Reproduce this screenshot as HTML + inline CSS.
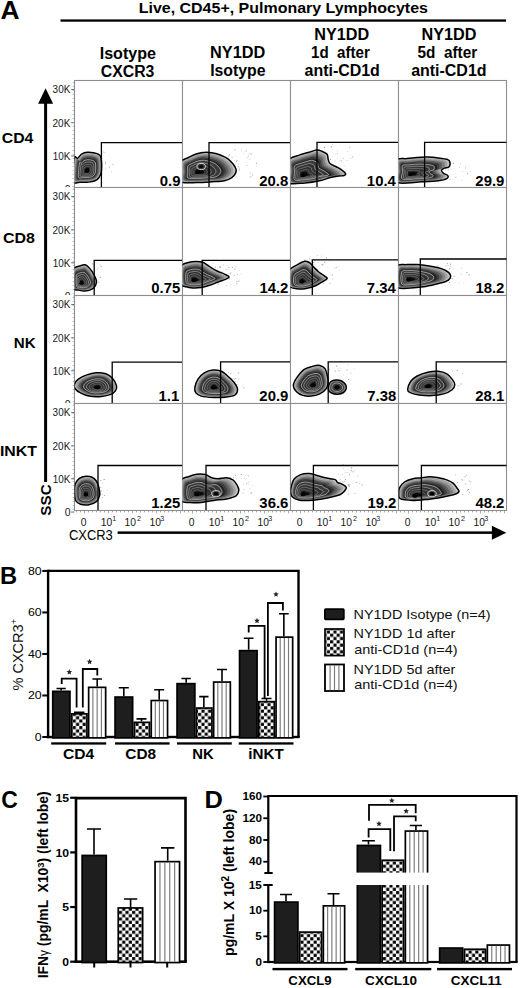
<!DOCTYPE html>
<html><head><meta charset="utf-8"><style>
html,body{margin:0;padding:0;background:#fff;width:520px;height:988px;overflow:hidden}
svg{display:block}
text{font-family:"Liberation Sans",sans-serif}
</style></head><body>
<svg width="520" height="988" viewBox="0 0 520 988">
<defs>
<pattern id="chk" patternUnits="userSpaceOnUse" width="6.6" height="6.6" x="0" y="0">
<rect width="6.6" height="6.6" fill="#fff"/>
<rect x="0.1" y="0.1" width="3.1" height="3.1" fill="#000"/>
<rect x="3.4" y="3.4" width="3.1" height="3.1" fill="#000"/>
</pattern>
<pattern id="str" patternUnits="userSpaceOnUse" width="4.4" height="10" x="0.5" y="0">
<rect width="4.4" height="10" fill="#fff"/>
<rect x="0" y="0" width="1.1" height="10" fill="#666"/>
</pattern>

<clipPath id="c00"><rect x="74.5" y="80.5" width="107.5" height="106.5"/></clipPath>
<clipPath id="c01"><rect x="182.5" y="80.5" width="107.5" height="106.5"/></clipPath>
<clipPath id="c02"><rect x="290.5" y="80.5" width="107.5" height="106.5"/></clipPath>
<clipPath id="c03"><rect x="398.5" y="80.5" width="107.5" height="106.5"/></clipPath>
<clipPath id="c10"><rect x="74.5" y="187.5" width="107.5" height="107.5"/></clipPath>
<clipPath id="c11"><rect x="182.5" y="187.5" width="107.5" height="107.5"/></clipPath>
<clipPath id="c12"><rect x="290.5" y="187.5" width="107.5" height="107.5"/></clipPath>
<clipPath id="c13"><rect x="398.5" y="187.5" width="107.5" height="107.5"/></clipPath>
<clipPath id="c20"><rect x="74.5" y="295.5" width="107.5" height="107.5"/></clipPath>
<clipPath id="c21"><rect x="182.5" y="295.5" width="107.5" height="107.5"/></clipPath>
<clipPath id="c22"><rect x="290.5" y="295.5" width="107.5" height="107.5"/></clipPath>
<clipPath id="c23"><rect x="398.5" y="295.5" width="107.5" height="107.5"/></clipPath>
<clipPath id="c30"><rect x="74.5" y="403.5" width="107.5" height="106.5"/></clipPath>
<clipPath id="c31"><rect x="182.5" y="403.5" width="107.5" height="106.5"/></clipPath>
<clipPath id="c32"><rect x="290.5" y="403.5" width="107.5" height="106.5"/></clipPath>
<clipPath id="c33"><rect x="398.5" y="403.5" width="107.5" height="106.5"/></clipPath>
<path id="b1" d="M74.7,157.3 C75.4,155.4 76.6,158.6 77.4,158.5 C78.2,158.4 78.5,157.3 79.3,156.5 C80.1,155.7 80.7,154.5 82.0,153.8 C83.3,153.1 85.5,152.5 87.4,152.3 C89.3,152.1 91.7,152.4 93.5,152.7 C95.3,153.0 97.0,153.5 98.2,154.2 C99.4,154.9 100.2,155.5 100.8,157.0 C101.4,158.5 101.5,160.4 101.6,163.0 C101.7,165.6 101.7,169.9 101.2,172.3 C100.8,174.8 99.9,176.3 98.9,177.7 C97.9,179.1 96.9,180.1 95.0,180.8 C93.1,181.6 90.0,181.9 87.4,182.2 C84.9,182.4 82.1,182.3 79.7,182.3 C77.3,182.3 74.1,184.2 73.0,182.2 C71.9,180.1 72.7,174.2 73.0,170.0 C73.3,165.8 74.0,159.2 74.7,157.3Z"/>
<path id="b2" d="M181.0,161.7 C182.2,159.3 185.8,158.8 188.5,157.5 C191.2,156.2 194.2,154.6 197.0,153.7 C199.8,152.8 203.0,152.3 205.4,152.2 C207.8,152.0 209.2,152.3 211.7,152.8 C214.2,153.3 217.5,154.0 220.2,155.0 C222.8,156.0 225.5,157.1 227.6,158.6 C229.7,160.1 231.5,162.1 232.9,163.8 C234.3,165.6 235.6,167.5 236.0,169.1 C236.4,170.7 236.1,172.0 235.4,173.4 C234.7,174.8 233.6,176.4 231.8,177.6 C230.0,178.8 227.8,180.1 224.4,180.8 C221.1,181.5 216.3,181.5 211.7,181.8 C207.1,182.1 202.1,182.5 197.0,182.5 C191.9,182.5 183.7,183.6 181.0,181.8 C178.3,180.1 181.0,175.3 181.0,172.0 C181.0,168.7 179.8,164.1 181.0,161.7Z"/>
<path id="b3" d="M289.0,159.6 C290.6,157.2 295.2,156.6 298.6,155.4 C302.0,154.2 306.2,153.1 309.2,152.2 C312.2,151.3 314.5,150.3 316.6,150.1 C318.7,149.9 320.1,150.5 321.8,151.2 C323.6,151.9 326.0,152.9 327.1,154.3 C328.2,155.7 327.7,158.0 328.2,159.6 C328.7,161.2 328.9,162.6 330.3,163.8 C331.7,165.0 334.8,165.9 336.7,167.0 C338.6,168.1 340.4,169.1 341.9,170.2 C343.4,171.3 345.1,172.5 345.5,173.4 C345.9,174.3 345.1,175.1 344.0,175.5 C342.9,175.9 341.1,175.8 338.8,176.1 C336.5,176.4 333.5,176.8 330.3,177.6 C327.1,178.4 323.9,179.9 319.7,180.8 C315.5,181.7 310.0,182.6 304.9,182.9 C299.8,183.2 291.6,185.1 289.0,182.9 C286.4,180.8 289.0,173.9 289.0,170.0 C289.0,166.1 287.4,162.0 289.0,159.6Z"/>
<path id="b4" d="M397.0,159.6 C398.6,157.7 403.2,158.9 406.6,158.6 C410.0,158.2 413.7,157.8 417.2,157.5 C420.7,157.2 424.2,157.0 427.7,157.1 C431.2,157.2 434.9,157.5 438.3,157.9 C441.7,158.3 445.9,158.8 447.8,159.6 C449.8,160.4 449.8,161.6 450.0,162.8 C450.2,164.0 449.8,166.1 448.9,167.0 C448.0,167.9 445.9,167.6 444.7,168.1 C443.5,168.6 441.7,169.3 441.5,170.2 C441.3,171.1 442.6,172.5 443.6,173.4 C444.7,174.3 447.3,174.6 447.8,175.5 C448.3,176.4 448.4,177.8 446.8,178.7 C445.2,179.6 442.5,180.3 438.3,180.8 C434.1,181.3 428.3,181.5 421.4,181.8 C414.5,182.1 401.1,184.5 397.0,182.5 C392.9,180.5 397.0,173.8 397.0,170.0 C397.0,166.2 395.4,161.5 397.0,159.6Z"/>
<path id="b5" d="M73.0,269.9 C74.2,266.2 78.4,266.5 80.5,265.7 C82.6,264.9 84.2,264.5 85.8,265.0 C87.4,265.5 88.6,267.1 90.0,268.8 C91.4,270.5 93.2,273.2 94.2,275.2 C95.2,277.1 96.1,278.7 96.3,280.5 C96.5,282.3 96.2,284.3 95.3,285.8 C94.4,287.3 92.8,288.7 91.0,289.6 C89.2,290.5 86.8,291.0 84.7,291.1 C82.6,291.2 80.2,290.5 78.3,290.0 C76.3,289.5 73.9,291.2 73.0,287.9 C72.1,284.5 71.8,273.6 73.0,269.9Z"/>
<path id="b6" d="M181.0,266.7 C182.2,263.2 186.0,263.4 188.5,262.5 C191.0,261.6 193.4,261.4 195.9,261.4 C198.4,261.4 201.0,261.6 203.3,262.5 C205.6,263.4 207.3,265.3 209.6,266.7 C211.9,268.1 214.5,269.8 217.0,271.0 C219.5,272.2 222.4,273.1 224.4,274.1 C226.4,275.1 228.9,276.0 229.1,276.9 C229.3,277.8 227.3,278.5 225.5,279.4 C223.7,280.2 220.8,281.0 218.1,282.0 C215.4,283.0 212.4,284.4 209.6,285.3 C206.8,286.2 204.0,287.1 201.2,287.5 C198.4,287.9 195.2,288.0 192.7,287.9 C190.2,287.8 188.2,287.5 186.3,286.8 C184.4,286.1 181.9,287.1 181.0,283.7 C180.1,280.3 179.8,270.2 181.0,266.7Z"/>
<path id="b7" d="M289.0,271.0 C290.4,267.5 295.0,266.2 297.5,264.6 C300.0,263.0 301.9,261.8 303.9,261.4 C305.8,261.0 307.6,261.6 309.2,262.5 C310.8,263.4 311.8,265.1 313.4,266.7 C315.0,268.3 316.8,270.4 318.7,272.0 C320.6,273.6 323.6,275.2 325.0,276.3 C326.4,277.4 327.5,277.5 327.1,278.4 C326.8,279.3 324.8,280.3 322.9,281.5 C321.0,282.7 318.1,284.7 315.5,285.8 C312.9,286.9 309.8,287.8 307.0,288.3 C304.2,288.8 301.6,289.4 298.6,289.0 C295.6,288.6 290.6,288.8 289.0,285.8 C287.4,282.8 287.6,274.5 289.0,271.0Z"/>
<path id="b8" d="M397.0,266.7 C398.6,263.0 403.2,265.0 406.6,264.6 C410.0,264.2 413.7,264.4 417.2,264.6 C420.7,264.8 424.2,265.2 427.7,265.7 C431.2,266.2 435.3,267.0 438.3,267.8 C441.3,268.6 443.8,269.4 445.7,270.5 C447.6,271.6 449.3,272.8 450.0,274.1 C450.7,275.4 450.7,277.2 450.0,278.4 C449.3,279.6 448.0,280.6 445.7,281.5 C443.4,282.4 439.9,283.2 436.2,284.1 C432.5,285.0 427.7,286.2 423.5,286.8 C419.3,287.4 415.2,287.9 410.8,287.9 C406.4,287.9 399.3,290.3 397.0,286.8 C394.7,283.3 395.4,270.4 397.0,266.7Z"/>
<path id="b9" d="M74.5,384.4 C75.0,382.8 76.2,380.7 78.3,379.1 C80.3,377.5 83.8,375.9 86.8,374.9 C89.8,373.8 93.1,373.0 96.3,372.8 C99.5,372.6 103.1,372.9 105.8,373.8 C108.5,374.7 110.4,376.2 112.2,378.1 C114.0,380.1 115.9,383.4 116.4,385.5 C116.9,387.6 116.5,389.3 115.4,390.8 C114.4,392.3 112.8,393.6 110.1,394.6 C107.4,395.6 103.0,396.4 99.5,396.7 C96.0,396.9 92.1,396.7 88.9,396.1 C85.7,395.5 82.8,394.1 80.5,392.9 C78.2,391.7 76.2,390.1 75.2,388.7 C74.2,387.3 74.0,386.0 74.5,384.4Z"/>
<path id="b10" d="M194.8,387.6 C195.2,385.3 196.4,381.6 198.0,379.1 C199.6,376.6 201.8,374.3 204.3,372.8 C206.8,371.3 210.0,370.2 212.8,370.0 C215.6,369.8 218.8,370.3 221.3,371.3 C223.8,372.3 225.5,374.2 227.6,376.0 C229.7,377.8 232.2,380.1 233.9,382.3 C235.6,384.5 237.3,387.0 237.5,389.1 C237.7,391.2 236.8,393.7 235.0,395.0 C233.2,396.3 230.0,396.7 226.5,397.1 C223.0,397.5 218.0,397.7 213.8,397.5 C209.6,397.3 204.2,396.9 201.2,396.1 C198.2,395.3 197.0,394.3 195.9,392.9 C194.8,391.5 194.5,389.9 194.8,387.6Z"/>
<path id="b11" d="M293.3,385.5 C293.3,383.2 294.7,380.8 296.5,378.1 C298.3,375.5 301.3,371.6 303.9,369.6 C306.5,367.7 309.7,367.1 312.3,366.4 C314.9,365.7 317.6,365.0 319.7,365.4 C321.8,365.8 323.8,367.0 325.0,368.6 C326.2,370.2 326.6,372.6 327.1,374.9 C327.6,377.2 328.4,380.0 328.2,382.3 C328.0,384.6 327.5,386.8 326.1,388.7 C324.7,390.6 322.2,392.7 319.7,393.9 C317.2,395.1 314.1,395.9 311.3,396.1 C308.5,396.4 305.3,396.1 302.8,395.4 C300.3,394.7 298.1,393.4 296.5,391.8 C294.9,390.2 293.3,387.8 293.3,385.5Z"/>
<path id="b12" d="M328.5,386.0 C328.9,384.6 329.8,382.5 331.0,381.5 C332.2,380.5 334.2,380.1 336.0,380.0 C337.8,379.9 339.9,380.2 341.5,381.0 C343.1,381.8 344.7,383.2 345.5,384.5 C346.3,385.8 346.5,387.2 346.2,388.5 C345.9,389.8 344.9,391.6 343.5,392.5 C342.1,393.4 339.5,394.1 337.5,394.2 C335.5,394.3 333.0,393.7 331.5,393.0 C330.0,392.3 329.0,391.2 328.5,390.0 C328.0,388.8 328.1,387.4 328.5,386.0Z"/>
<path id="b13" d="M407.6,389.7 C407.6,387.8 409.2,383.6 410.8,381.3 C412.4,379.0 414.4,377.5 417.2,376.0 C420.0,374.5 424.2,373.0 427.7,372.2 C431.2,371.4 435.1,371.0 438.3,371.3 C441.5,371.6 444.5,372.5 446.8,373.8 C449.1,375.1 450.8,377.3 452.1,379.1 C453.4,380.9 454.8,382.6 454.8,384.4 C454.8,386.2 454.0,388.1 452.1,389.7 C450.2,391.3 447.0,392.9 443.6,393.9 C440.2,394.9 436.1,395.4 432.0,395.6 C427.9,395.8 422.8,395.4 419.3,395.0 C415.8,394.6 412.8,393.8 410.8,392.9 C408.9,392.0 407.6,391.6 407.6,389.7Z"/>
<path id="b14" d="M75.2,484.0 C76.0,481.7 77.6,479.7 79.4,478.4 C81.2,477.1 83.7,476.5 85.8,476.3 C87.9,476.1 90.3,476.4 92.1,477.2 C93.8,478.0 95.1,479.1 96.3,481.0 C97.5,482.9 98.6,485.9 99.1,488.4 C99.6,490.9 100.0,493.6 99.5,495.8 C99.0,498.0 98.1,500.2 96.3,501.7 C94.5,503.2 91.5,504.3 88.9,504.7 C86.3,505.1 82.7,504.9 80.5,504.2 C78.3,503.5 76.6,502.5 75.6,500.5 C74.6,498.5 74.7,494.8 74.6,492.0 C74.5,489.2 74.4,486.3 75.2,484.0Z"/>
<path id="b15" d="M181.0,481.0 C182.2,477.1 185.8,477.8 188.5,476.7 C191.2,475.6 194.1,474.5 196.9,474.2 C199.7,473.9 202.9,474.0 205.4,474.6 C207.9,475.2 209.6,477.1 211.7,477.8 C213.8,478.5 215.6,478.8 218.1,478.8 C220.6,478.8 224.0,477.6 226.5,477.8 C229.0,478.0 231.1,478.7 232.9,479.9 C234.7,481.1 236.1,483.4 237.1,485.2 C238.1,487.0 239.0,488.7 238.8,490.5 C238.6,492.3 238.2,494.4 236.1,495.8 C234.0,497.2 230.2,498.1 226.5,498.9 C222.8,499.7 218.0,499.8 213.8,500.4 C209.6,501.0 205.1,502.1 201.2,502.5 C197.3,502.9 194.0,502.9 190.6,502.5 C187.2,502.1 182.6,503.6 181.0,500.0 C179.4,496.4 179.8,484.9 181.0,481.0Z"/>
<path id="b16" d="M291.6,485.4 C292.2,483.4 292.8,480.6 294.3,478.8 C295.8,477.0 298.2,475.5 300.7,474.6 C303.2,473.7 306.7,473.5 309.2,473.6 C311.7,473.7 313.2,474.4 315.5,475.0 C317.8,475.6 320.4,476.6 322.9,477.2 C325.4,477.8 328.2,478.4 330.3,478.8 C332.4,479.2 334.4,479.2 335.6,479.9 C336.8,480.5 336.6,482.0 337.7,482.7 C338.8,483.4 340.6,483.3 342.0,484.1 C343.4,484.9 345.8,486.1 346.2,487.3 C346.6,488.5 345.2,490.3 344.1,491.5 C343.0,492.7 341.8,493.8 339.8,494.7 C337.9,495.6 335.4,496.1 332.4,496.8 C329.4,497.5 325.7,498.4 321.8,499.0 C317.9,499.6 313.1,500.2 309.2,500.4 C305.3,500.6 301.5,500.6 298.6,500.0 C295.7,499.4 293.3,498.0 292.0,496.5 C290.7,495.0 290.7,492.9 290.6,491.0 C290.5,489.1 291.0,487.4 291.6,485.4Z"/>
<path id="b17" d="M399.6,487.6 C400.6,485.8 402.3,483.5 404.5,482.0 C406.7,480.5 410.1,479.5 412.9,478.8 C415.7,478.1 418.6,478.2 421.4,477.8 C424.2,477.4 427.0,476.7 429.8,476.7 C432.6,476.7 435.5,477.3 438.3,477.8 C441.1,478.3 444.3,479.0 446.8,479.9 C449.3,480.8 451.4,481.7 453.1,483.1 C454.9,484.5 456.3,487.0 457.3,488.4 C458.3,489.8 459.2,490.6 459.0,491.5 C458.8,492.4 458.0,493.0 456.3,493.7 C454.6,494.4 451.9,495.1 448.9,495.8 C445.9,496.5 442.2,497.3 438.3,497.9 C434.4,498.5 429.8,499.2 425.6,499.6 C421.4,500.0 417.1,500.6 412.9,500.4 C408.7,500.2 402.5,499.8 400.2,498.6 C397.9,497.4 398.9,494.8 398.8,493.0 C398.7,491.2 398.7,489.4 399.6,487.6Z"/>
</defs>
<rect width="520" height="988" fill="#fff"/>
<text x="0.64" y="19.00" font-size="25.50" font-weight="bold" fill="#000" textLength="19.05" lengthAdjust="spacingAndGlyphs" xml:space="preserve">A</text>
<text x="138.73" y="13.20" font-size="15.30" font-weight="bold" fill="#000" textLength="289.22" lengthAdjust="spacingAndGlyphs" xml:space="preserve">Live, CD45+, Pulmonary Lymphocytes</text>
<rect x="60.5" y="19.4" width="445.5" height="2.3" fill="#000"/>
<text x="99.72" y="58.60" font-size="16.00" font-weight="bold" fill="#000" textLength="56.22" lengthAdjust="spacingAndGlyphs" xml:space="preserve">Isotype</text>
<text x="100.85" y="76.60" font-size="16.00" font-weight="bold" fill="#000" textLength="53.51" lengthAdjust="spacingAndGlyphs" xml:space="preserve">CXCR3</text>
<text x="210.11" y="57.90" font-size="16.00" font-weight="bold" fill="#000" textLength="55.17" lengthAdjust="spacingAndGlyphs" xml:space="preserve">NY1DD</text>
<text x="210.14" y="75.60" font-size="16.00" font-weight="bold" fill="#000" textLength="55.40" lengthAdjust="spacingAndGlyphs" xml:space="preserve">Isotype</text>
<text x="314.32" y="40.20" font-size="16.00" font-weight="bold" fill="#000" textLength="54.86" lengthAdjust="spacingAndGlyphs" xml:space="preserve">NY1DD</text>
<text x="311.05" y="58.00" font-size="16.00" font-weight="bold" fill="#000" textLength="58.78" lengthAdjust="spacingAndGlyphs" xml:space="preserve">1d  after</text>
<text x="304.54" y="75.90" font-size="16.00" font-weight="bold" fill="#000" textLength="75.32" lengthAdjust="spacingAndGlyphs" xml:space="preserve">anti-CD1d</text>
<text x="421.62" y="39.70" font-size="16.00" font-weight="bold" fill="#000" textLength="54.86" lengthAdjust="spacingAndGlyphs" xml:space="preserve">NY1DD</text>
<text x="417.52" y="58.00" font-size="16.00" font-weight="bold" fill="#000" textLength="59.61" lengthAdjust="spacingAndGlyphs" xml:space="preserve">5d  after</text>
<text x="411.14" y="75.60" font-size="16.00" font-weight="bold" fill="#000" textLength="75.42" lengthAdjust="spacingAndGlyphs" xml:space="preserve">anti-CD1d</text>
<text x="1.85" y="143.00" font-size="15.20" font-weight="bold" fill="#000" textLength="31.53" lengthAdjust="spacingAndGlyphs" xml:space="preserve">CD4</text>
<text x="2.95" y="243.00" font-size="15.20" font-weight="bold" fill="#000" textLength="31.96" lengthAdjust="spacingAndGlyphs" xml:space="preserve">CD8</text>
<text x="13.79" y="348.00" font-size="15.20" font-weight="bold" fill="#000" textLength="21.87" lengthAdjust="spacingAndGlyphs" xml:space="preserve">NK</text>
<text x="-0.06" y="456.40" font-size="15.20" font-weight="bold" fill="#000" textLength="37.04" lengthAdjust="spacingAndGlyphs" xml:space="preserve">INKT</text>
<rect x="52" y="80.0" width="21.5" height="107.0" fill="#fff"/>
<text x="52.62" y="93.35" font-size="10.40" fill="#1a1a1a" textLength="17.70" lengthAdjust="spacingAndGlyphs" xml:space="preserve">30K</text>
<rect x="71.2" y="89.1" width="3" height="0.9" fill="#555"/>
<text x="52.50" y="126.55" font-size="10.40" fill="#1a1a1a" textLength="17.82" lengthAdjust="spacingAndGlyphs" xml:space="preserve">20K</text>
<rect x="71.2" y="122.3" width="3" height="0.9" fill="#555"/>
<text x="52.64" y="159.65" font-size="10.40" fill="#1a1a1a" textLength="17.68" lengthAdjust="spacingAndGlyphs" xml:space="preserve">10K</text>
<rect x="71.2" y="155.5" width="3" height="0.9" fill="#555"/>
<text x="64.79" y="192.75" font-size="10.40" fill="#1a1a1a" textLength="5.82" lengthAdjust="spacingAndGlyphs" xml:space="preserve">0</text>
<rect x="71.2" y="188.6" width="3" height="0.9" fill="#555"/>
<rect x="72.6" y="82.0" width="1.6" height="0.6" fill="#999"/>
<rect x="72.6" y="86.0" width="1.6" height="0.6" fill="#999"/>
<rect x="72.6" y="90.0" width="1.6" height="0.6" fill="#999"/>
<rect x="72.6" y="94.0" width="1.6" height="0.6" fill="#999"/>
<rect x="72.6" y="98.0" width="1.6" height="0.6" fill="#999"/>
<rect x="72.6" y="102.0" width="1.6" height="0.6" fill="#999"/>
<rect x="72.6" y="106.0" width="1.6" height="0.6" fill="#999"/>
<rect x="72.6" y="110.0" width="1.6" height="0.6" fill="#999"/>
<rect x="72.6" y="114.0" width="1.6" height="0.6" fill="#999"/>
<rect x="72.6" y="118.0" width="1.6" height="0.6" fill="#999"/>
<rect x="72.6" y="122.0" width="1.6" height="0.6" fill="#999"/>
<rect x="72.6" y="126.0" width="1.6" height="0.6" fill="#999"/>
<rect x="72.6" y="130.0" width="1.6" height="0.6" fill="#999"/>
<rect x="72.6" y="134.0" width="1.6" height="0.6" fill="#999"/>
<rect x="72.6" y="138.0" width="1.6" height="0.6" fill="#999"/>
<rect x="72.6" y="142.0" width="1.6" height="0.6" fill="#999"/>
<rect x="72.6" y="146.0" width="1.6" height="0.6" fill="#999"/>
<rect x="72.6" y="150.0" width="1.6" height="0.6" fill="#999"/>
<rect x="72.6" y="154.0" width="1.6" height="0.6" fill="#999"/>
<rect x="72.6" y="158.0" width="1.6" height="0.6" fill="#999"/>
<rect x="72.6" y="162.0" width="1.6" height="0.6" fill="#999"/>
<rect x="72.6" y="166.0" width="1.6" height="0.6" fill="#999"/>
<rect x="72.6" y="170.0" width="1.6" height="0.6" fill="#999"/>
<rect x="72.6" y="174.0" width="1.6" height="0.6" fill="#999"/>
<rect x="72.6" y="178.0" width="1.6" height="0.6" fill="#999"/>
<rect x="72.6" y="182.0" width="1.6" height="0.6" fill="#999"/>
<rect x="72.6" y="186.0" width="1.6" height="0.6" fill="#999"/>
<rect x="74.5" y="80.5" width="108.0" height="107.0" fill="#fff" stroke="#8e8e8e" stroke-width="1.1"/>
<g clip-path="url(#c00)" fill="#9a9a9a"><circle cx="100.5" cy="155.2" r="0.51"/><circle cx="95.4" cy="166.0" r="0.44"/><circle cx="95.2" cy="165.2" r="0.36"/><circle cx="102.7" cy="153.0" r="0.37"/><circle cx="102.5" cy="174.2" r="0.38"/><circle cx="98.5" cy="168.6" r="0.59"/><circle cx="105.5" cy="162.1" r="0.59"/><circle cx="99.8" cy="155.0" r="0.38"/><circle cx="100.2" cy="173.9" r="0.40"/><circle cx="105.6" cy="168.9" r="0.44"/><circle cx="105.0" cy="152.8" r="0.36"/><circle cx="98.1" cy="170.1" r="0.46"/><circle cx="100.3" cy="167.4" r="0.46"/><circle cx="100.0" cy="173.2" r="0.52"/><circle cx="98.9" cy="167.1" r="0.48"/><circle cx="111.5" cy="171.4" r="0.42"/><circle cx="102.4" cy="172.2" r="0.39"/><circle cx="103.8" cy="152.1" r="0.52"/><circle cx="109.3" cy="167.0" r="0.57"/><circle cx="100.3" cy="170.5" r="0.50"/><circle cx="105.6" cy="163.8" r="0.56"/><circle cx="112.9" cy="164.3" r="0.52"/><circle cx="95.2" cy="170.6" r="0.51"/><circle cx="99.7" cy="161.8" r="0.52"/><circle cx="94.5" cy="163.9" r="0.39"/></g>
<g clip-path="url(#c00)">
<use href="#b1" transform="matrix(1.000,0,0,1.000,0.00,0.00)" fill="#c4c4c4"/>
<use href="#b1" transform="matrix(0.933,0,0,0.933,5.80,11.39)" fill="#a2a2a2"/>
<use href="#b1" transform="matrix(0.867,0,0,0.867,11.60,22.77)" fill="#808080"/>
<use href="#b1" transform="matrix(0.800,0,0,0.800,17.40,34.16)" fill="#5e5e5e"/>
<use href="#b1" transform="matrix(0.733,0,0,0.733,23.20,45.55)" fill="#3e3e3e"/>
<use href="#b1" transform="matrix(0.667,0,0,0.667,29.00,56.93)" fill="#222222"/>
<use href="#b1" transform="matrix(0.600,0,0,0.600,34.80,68.32)" fill="#3a3a3a" stroke="#fafafa" stroke-width="0.9" vector-effect="non-scaling-stroke"/>
<use href="#b1" transform="matrix(0.470,0,0,0.470,46.11,90.52)" fill="#343434" stroke="#f4f4f4" stroke-width="0.85" vector-effect="non-scaling-stroke"/>
<use href="#b1" transform="matrix(0.423,0,0,0.423,50.20,98.55)" fill="none" stroke="#222" stroke-width="0.6" vector-effect="non-scaling-stroke"/>
<use href="#b1" transform="matrix(0.350,0,0,0.350,56.55,111.02)" fill="#343434" stroke="#f4f4f4" stroke-width="0.85" vector-effect="non-scaling-stroke"/>
<use href="#b1" transform="matrix(0.315,0,0,0.315,59.60,117.00)" fill="none" stroke="#222" stroke-width="0.6" vector-effect="non-scaling-stroke"/>
<use href="#b1" transform="matrix(0.240,0,0,0.240,66.12,129.81)" fill="#343434" stroke="#f4f4f4" stroke-width="0.85" vector-effect="non-scaling-stroke"/>
<use href="#b1" transform="matrix(0.216,0,0,0.216,68.21,133.91)" fill="none" stroke="#222" stroke-width="0.6" vector-effect="non-scaling-stroke"/>
<use href="#b1" transform="matrix(0.160,0,0,0.160,73.08,143.47)" fill="#0a0a0a"/>
<use href="#b1" transform="matrix(1.000,0,0,1.000,0.00,0.00)" fill="none" stroke="#000" stroke-width="1.5" vector-effect="non-scaling-stroke"/>
<ellipse cx="87.0" cy="170.8" rx="2.2" ry="1.6" fill="#000"/>
</g>
<path d="M101.4,187.0 V142.7 H182.5" fill="none" stroke="#000" stroke-width="1.3"/>
<text x="159.85" y="185.70" font-size="14.60" font-weight="bold" fill="#000" textLength="20.70" lengthAdjust="spacingAndGlyphs" xml:space="preserve">0.9</text>
<rect x="182.5" y="80.5" width="108.0" height="107.0" fill="#fff" stroke="#8e8e8e" stroke-width="1.1"/>
<g clip-path="url(#c01)" fill="#9a9a9a"><circle cx="249.7" cy="153.1" r="0.41"/><circle cx="236.1" cy="176.9" r="0.37"/><circle cx="238.2" cy="166.6" r="0.57"/><circle cx="251.5" cy="176.6" r="0.42"/><circle cx="237.0" cy="160.5" r="0.57"/><circle cx="228.3" cy="156.4" r="0.41"/><circle cx="239.5" cy="167.9" r="0.42"/><circle cx="235.3" cy="167.1" r="0.59"/><circle cx="246.9" cy="165.5" r="0.50"/><circle cx="246.3" cy="150.7" r="0.57"/><circle cx="250.1" cy="177.0" r="0.55"/><circle cx="236.1" cy="161.8" r="0.38"/><circle cx="244.8" cy="151.0" r="0.37"/><circle cx="229.5" cy="154.2" r="0.44"/><circle cx="235.1" cy="149.8" r="0.57"/><circle cx="244.1" cy="153.8" r="0.41"/><circle cx="234.5" cy="160.7" r="0.38"/><circle cx="238.8" cy="164.5" r="0.37"/><circle cx="225.7" cy="160.0" r="0.42"/><circle cx="251.8" cy="154.2" r="0.36"/><circle cx="256.2" cy="165.9" r="0.39"/><circle cx="241.6" cy="149.9" r="0.48"/><circle cx="247.1" cy="157.4" r="0.44"/><circle cx="228.0" cy="173.7" r="0.48"/><circle cx="250.0" cy="159.5" r="0.41"/><circle cx="252.7" cy="174.8" r="0.55"/><circle cx="248.6" cy="156.3" r="0.48"/><circle cx="234.8" cy="149.9" r="0.36"/><circle cx="232.1" cy="157.3" r="0.52"/><circle cx="256.4" cy="163.3" r="0.58"/><circle cx="235.1" cy="156.1" r="0.41"/><circle cx="229.1" cy="155.5" r="0.51"/><circle cx="239.3" cy="169.9" r="0.55"/><circle cx="225.1" cy="170.1" r="0.58"/><circle cx="250.2" cy="173.0" r="0.47"/><circle cx="228.4" cy="174.3" r="0.43"/><circle cx="236.3" cy="161.8" r="0.59"/><circle cx="248.1" cy="154.4" r="0.38"/><circle cx="251.0" cy="153.7" r="0.56"/><circle cx="234.6" cy="166.6" r="0.38"/></g>
<g clip-path="url(#c01)">
<use href="#b2" transform="matrix(1.000,0,0,1.000,0.00,0.00)" fill="#c4c4c4"/>
<use href="#b2" transform="matrix(0.933,0,0,0.933,13.20,11.49)" fill="#a2a2a2"/>
<use href="#b2" transform="matrix(0.867,0,0,0.867,26.40,22.97)" fill="#808080"/>
<use href="#b2" transform="matrix(0.800,0,0,0.800,39.60,34.46)" fill="#5e5e5e"/>
<use href="#b2" transform="matrix(0.733,0,0,0.733,52.80,45.95)" fill="#3e3e3e"/>
<use href="#b2" transform="matrix(0.667,0,0,0.667,66.00,57.43)" fill="#222222"/>
<use href="#b2" transform="matrix(0.600,0,0,0.600,79.20,68.92)" fill="#3a3a3a" stroke="#fafafa" stroke-width="0.9" vector-effect="non-scaling-stroke"/>
<use href="#b2" transform="matrix(0.470,0,0,0.470,104.94,91.32)" fill="#343434" stroke="#f4f4f4" stroke-width="0.85" vector-effect="non-scaling-stroke"/>
<use href="#b2" transform="matrix(0.423,0,0,0.423,114.25,99.42)" fill="none" stroke="#222" stroke-width="0.6" vector-effect="non-scaling-stroke"/>
<use href="#b2" transform="matrix(0.350,0,0,0.350,128.70,112.00)" fill="#343434" stroke="#f4f4f4" stroke-width="0.85" vector-effect="non-scaling-stroke"/>
<use href="#b2" transform="matrix(0.315,0,0,0.315,135.63,118.03)" fill="none" stroke="#222" stroke-width="0.6" vector-effect="non-scaling-stroke"/>
<use href="#b2" transform="matrix(0.240,0,0,0.240,150.48,130.95)" fill="#343434" stroke="#f4f4f4" stroke-width="0.85" vector-effect="non-scaling-stroke"/>
<use href="#b2" transform="matrix(0.216,0,0,0.216,155.23,135.08)" fill="none" stroke="#222" stroke-width="0.6" vector-effect="non-scaling-stroke"/>
<use href="#b2" transform="matrix(0.160,0,0,0.160,166.32,144.73)" fill="#0a0a0a"/>
<use href="#b2" transform="matrix(1.000,0,0,1.000,0.00,0.00)" fill="none" stroke="#000" stroke-width="1.5" vector-effect="non-scaling-stroke"/>
<ellipse cx="198.0" cy="172.3" rx="2.2" ry="1.6" fill="#000"/>
<ellipse cx="201.2" cy="166.5" rx="4.2" ry="3.1" fill="#3a3a3a" stroke="#f4f4f4" stroke-width="0.8"/>
<ellipse cx="201.2" cy="166.5" rx="2.2" ry="1.6" fill="#000"/>
</g>
<path d="M209.0,187.0 V142.7 H290.5" fill="none" stroke="#000" stroke-width="1.3"/>
<text x="259.28" y="185.70" font-size="14.60" font-weight="bold" fill="#000" textLength="28.98" lengthAdjust="spacingAndGlyphs" xml:space="preserve">20.8</text>
<rect x="290.5" y="80.5" width="108.0" height="107.0" fill="#fff" stroke="#8e8e8e" stroke-width="1.1"/>
<g clip-path="url(#c02)" fill="#9a9a9a"><circle cx="341.6" cy="161.0" r="0.58"/><circle cx="332.1" cy="173.4" r="0.56"/><circle cx="322.3" cy="151.1" r="0.42"/><circle cx="323.6" cy="163.1" r="0.41"/><circle cx="331.4" cy="146.7" r="0.58"/><circle cx="328.6" cy="158.5" r="0.50"/><circle cx="352.8" cy="157.1" r="0.58"/><circle cx="335.1" cy="161.1" r="0.48"/><circle cx="313.8" cy="157.8" r="0.40"/><circle cx="320.6" cy="159.0" r="0.53"/><circle cx="337.5" cy="153.7" r="0.48"/><circle cx="337.4" cy="170.2" r="0.38"/><circle cx="337.7" cy="150.9" r="0.42"/><circle cx="347.0" cy="160.3" r="0.49"/><circle cx="346.4" cy="174.8" r="0.46"/><circle cx="340.0" cy="160.2" r="0.48"/><circle cx="343.5" cy="158.3" r="0.48"/><circle cx="334.0" cy="175.9" r="0.52"/><circle cx="324.4" cy="162.1" r="0.59"/><circle cx="350.0" cy="146.9" r="0.38"/><circle cx="332.5" cy="144.6" r="0.41"/><circle cx="316.2" cy="166.1" r="0.55"/><circle cx="344.5" cy="165.8" r="0.39"/><circle cx="330.5" cy="159.5" r="0.60"/><circle cx="349.6" cy="147.8" r="0.46"/><circle cx="335.7" cy="154.2" r="0.40"/><circle cx="327.0" cy="168.0" r="0.35"/><circle cx="337.4" cy="157.9" r="0.35"/><circle cx="327.6" cy="164.5" r="0.48"/><circle cx="317.6" cy="151.6" r="0.36"/><circle cx="347.3" cy="151.7" r="0.38"/><circle cx="331.6" cy="174.8" r="0.55"/><circle cx="324.4" cy="147.4" r="0.58"/><circle cx="338.1" cy="167.2" r="0.37"/><circle cx="315.5" cy="166.8" r="0.46"/><circle cx="340.9" cy="170.9" r="0.37"/><circle cx="351.0" cy="158.3" r="0.43"/><circle cx="337.3" cy="175.4" r="0.42"/><circle cx="318.7" cy="161.0" r="0.41"/><circle cx="326.7" cy="153.0" r="0.54"/></g>
<g clip-path="url(#c02)">
<use href="#b3" transform="matrix(1.000,0,0,1.000,0.00,0.00)" fill="#c4c4c4"/>
<use href="#b3" transform="matrix(0.933,0,0,0.933,20.19,11.70)" fill="#a2a2a2"/>
<use href="#b3" transform="matrix(0.867,0,0,0.867,40.37,23.40)" fill="#808080"/>
<use href="#b3" transform="matrix(0.800,0,0,0.800,60.56,35.10)" fill="#5e5e5e"/>
<use href="#b3" transform="matrix(0.733,0,0,0.733,80.75,46.80)" fill="#3e3e3e"/>
<use href="#b3" transform="matrix(0.667,0,0,0.667,100.93,58.50)" fill="#222222"/>
<use href="#b3" transform="matrix(0.600,0,0,0.600,121.12,70.20)" fill="#3a3a3a" stroke="#fafafa" stroke-width="0.9" vector-effect="non-scaling-stroke"/>
<use href="#b3" transform="matrix(0.470,0,0,0.470,160.48,93.02)" fill="#343434" stroke="#f4f4f4" stroke-width="0.85" vector-effect="non-scaling-stroke"/>
<use href="#b3" transform="matrix(0.423,0,0,0.423,174.72,101.26)" fill="none" stroke="#222" stroke-width="0.6" vector-effect="non-scaling-stroke"/>
<use href="#b3" transform="matrix(0.350,0,0,0.350,196.82,114.08)" fill="#343434" stroke="#f4f4f4" stroke-width="0.85" vector-effect="non-scaling-stroke"/>
<use href="#b3" transform="matrix(0.315,0,0,0.315,207.42,120.22)" fill="none" stroke="#222" stroke-width="0.6" vector-effect="non-scaling-stroke"/>
<use href="#b3" transform="matrix(0.240,0,0,0.240,230.13,133.38)" fill="#343434" stroke="#f4f4f4" stroke-width="0.85" vector-effect="non-scaling-stroke"/>
<use href="#b3" transform="matrix(0.216,0,0,0.216,237.40,137.59)" fill="none" stroke="#222" stroke-width="0.6" vector-effect="non-scaling-stroke"/>
<use href="#b3" transform="matrix(0.160,0,0,0.160,254.35,147.42)" fill="#0a0a0a"/>
<use href="#b3" transform="matrix(1.000,0,0,1.000,0.00,0.00)" fill="none" stroke="#000" stroke-width="1.5" vector-effect="non-scaling-stroke"/>
<ellipse cx="302.8" cy="175.5" rx="2.2" ry="1.6" fill="#000"/>
</g>
<path d="M317.0,187.0 V142.3 H398.5" fill="none" stroke="#000" stroke-width="1.3"/>
<text x="366.89" y="185.70" font-size="14.60" font-weight="bold" fill="#000" textLength="28.98" lengthAdjust="spacingAndGlyphs" xml:space="preserve">10.4</text>
<rect x="398.5" y="80.5" width="108.0" height="107.0" fill="#fff" stroke="#8e8e8e" stroke-width="1.1"/>
<g clip-path="url(#c03)" fill="#9a9a9a"><circle cx="448.3" cy="170.0" r="0.39"/><circle cx="462.5" cy="171.4" r="0.40"/><circle cx="454.2" cy="182.2" r="0.38"/><circle cx="465.2" cy="168.1" r="0.47"/><circle cx="465.7" cy="167.0" r="0.48"/><circle cx="450.0" cy="179.3" r="0.53"/><circle cx="459.4" cy="167.3" r="0.44"/><circle cx="441.3" cy="176.7" r="0.41"/><circle cx="460.5" cy="163.9" r="0.41"/><circle cx="448.4" cy="168.9" r="0.39"/><circle cx="453.3" cy="163.4" r="0.59"/><circle cx="470.1" cy="171.3" r="0.41"/><circle cx="451.2" cy="169.3" r="0.48"/><circle cx="445.4" cy="170.1" r="0.35"/><circle cx="447.5" cy="158.5" r="0.45"/><circle cx="448.7" cy="162.5" r="0.50"/><circle cx="455.9" cy="177.0" r="0.51"/><circle cx="461.9" cy="180.6" r="0.45"/><circle cx="443.8" cy="176.3" r="0.51"/><circle cx="467.5" cy="173.6" r="0.53"/></g>
<g clip-path="url(#c03)">
<use href="#b4" transform="matrix(1.000,0,0,1.000,0.00,0.00)" fill="#c4c4c4"/>
<use href="#b4" transform="matrix(0.933,0,0,0.933,27.39,11.63)" fill="#a2a2a2"/>
<use href="#b4" transform="matrix(0.867,0,0,0.867,54.77,23.25)" fill="#808080"/>
<use href="#b4" transform="matrix(0.800,0,0,0.800,82.16,34.88)" fill="#5e5e5e"/>
<use href="#b4" transform="matrix(0.733,0,0,0.733,109.55,46.51)" fill="#3e3e3e"/>
<use href="#b4" transform="matrix(0.667,0,0,0.667,136.93,58.13)" fill="#222222"/>
<use href="#b4" transform="matrix(0.600,0,0,0.600,164.32,69.76)" fill="#3a3a3a" stroke="#fafafa" stroke-width="0.9" vector-effect="non-scaling-stroke"/>
<use href="#b4" transform="matrix(0.470,0,0,0.470,217.72,92.43)" fill="#343434" stroke="#f4f4f4" stroke-width="0.85" vector-effect="non-scaling-stroke"/>
<use href="#b4" transform="matrix(0.423,0,0,0.423,237.03,100.63)" fill="none" stroke="#222" stroke-width="0.6" vector-effect="non-scaling-stroke"/>
<use href="#b4" transform="matrix(0.350,0,0,0.350,267.02,113.36)" fill="#343434" stroke="#f4f4f4" stroke-width="0.85" vector-effect="non-scaling-stroke"/>
<use href="#b4" transform="matrix(0.315,0,0,0.315,281.40,119.46)" fill="none" stroke="#222" stroke-width="0.6" vector-effect="non-scaling-stroke"/>
<use href="#b4" transform="matrix(0.240,0,0,0.240,312.21,132.54)" fill="#343434" stroke="#f4f4f4" stroke-width="0.85" vector-effect="non-scaling-stroke"/>
<use href="#b4" transform="matrix(0.216,0,0,0.216,322.07,136.73)" fill="none" stroke="#222" stroke-width="0.6" vector-effect="non-scaling-stroke"/>
<use href="#b4" transform="matrix(0.160,0,0,0.160,345.07,146.50)" fill="#0a0a0a"/>
<use href="#b4" transform="matrix(1.000,0,0,1.000,0.00,0.00)" fill="none" stroke="#000" stroke-width="1.5" vector-effect="non-scaling-stroke"/>
<ellipse cx="410.8" cy="174.4" rx="2.2" ry="1.6" fill="#000"/>
</g>
<path d="M424.6,187.0 V142.3 H506.5" fill="none" stroke="#000" stroke-width="1.3"/>
<text x="475.37" y="185.70" font-size="14.60" font-weight="bold" fill="#000" textLength="28.98" lengthAdjust="spacingAndGlyphs" xml:space="preserve">29.9</text>
<rect x="52" y="187.0" width="21.5" height="108.0" fill="#fff"/>
<text x="52.62" y="200.35" font-size="10.40" fill="#1a1a1a" textLength="17.70" lengthAdjust="spacingAndGlyphs" xml:space="preserve">30K</text>
<rect x="71.2" y="196.2" width="3" height="0.9" fill="#555"/>
<text x="52.50" y="233.55" font-size="10.40" fill="#1a1a1a" textLength="17.82" lengthAdjust="spacingAndGlyphs" xml:space="preserve">20K</text>
<rect x="71.2" y="229.4" width="3" height="0.9" fill="#555"/>
<text x="52.64" y="266.65" font-size="10.40" fill="#1a1a1a" textLength="17.68" lengthAdjust="spacingAndGlyphs" xml:space="preserve">10K</text>
<rect x="71.2" y="262.4" width="3" height="0.9" fill="#555"/>
<text x="64.79" y="299.75" font-size="10.40" fill="#1a1a1a" textLength="5.82" lengthAdjust="spacingAndGlyphs" xml:space="preserve">0</text>
<rect x="71.2" y="295.6" width="3" height="0.9" fill="#555"/>
<rect x="72.6" y="189.0" width="1.6" height="0.6" fill="#999"/>
<rect x="72.6" y="193.0" width="1.6" height="0.6" fill="#999"/>
<rect x="72.6" y="197.0" width="1.6" height="0.6" fill="#999"/>
<rect x="72.6" y="201.0" width="1.6" height="0.6" fill="#999"/>
<rect x="72.6" y="205.0" width="1.6" height="0.6" fill="#999"/>
<rect x="72.6" y="209.0" width="1.6" height="0.6" fill="#999"/>
<rect x="72.6" y="213.0" width="1.6" height="0.6" fill="#999"/>
<rect x="72.6" y="217.0" width="1.6" height="0.6" fill="#999"/>
<rect x="72.6" y="221.0" width="1.6" height="0.6" fill="#999"/>
<rect x="72.6" y="225.0" width="1.6" height="0.6" fill="#999"/>
<rect x="72.6" y="229.0" width="1.6" height="0.6" fill="#999"/>
<rect x="72.6" y="233.0" width="1.6" height="0.6" fill="#999"/>
<rect x="72.6" y="237.0" width="1.6" height="0.6" fill="#999"/>
<rect x="72.6" y="241.0" width="1.6" height="0.6" fill="#999"/>
<rect x="72.6" y="245.0" width="1.6" height="0.6" fill="#999"/>
<rect x="72.6" y="249.0" width="1.6" height="0.6" fill="#999"/>
<rect x="72.6" y="253.0" width="1.6" height="0.6" fill="#999"/>
<rect x="72.6" y="257.0" width="1.6" height="0.6" fill="#999"/>
<rect x="72.6" y="261.0" width="1.6" height="0.6" fill="#999"/>
<rect x="72.6" y="265.0" width="1.6" height="0.6" fill="#999"/>
<rect x="72.6" y="269.0" width="1.6" height="0.6" fill="#999"/>
<rect x="72.6" y="273.0" width="1.6" height="0.6" fill="#999"/>
<rect x="72.6" y="277.0" width="1.6" height="0.6" fill="#999"/>
<rect x="72.6" y="281.0" width="1.6" height="0.6" fill="#999"/>
<rect x="72.6" y="285.0" width="1.6" height="0.6" fill="#999"/>
<rect x="72.6" y="289.0" width="1.6" height="0.6" fill="#999"/>
<rect x="72.6" y="293.0" width="1.6" height="0.6" fill="#999"/>
<rect x="74.5" y="187.5" width="108.0" height="108.0" fill="#fff" stroke="#8e8e8e" stroke-width="1.1"/>
<g clip-path="url(#c10)" fill="#9a9a9a"><circle cx="100.0" cy="264.9" r="0.48"/><circle cx="95.1" cy="284.4" r="0.55"/><circle cx="100.2" cy="277.4" r="0.57"/><circle cx="97.9" cy="280.4" r="0.41"/><circle cx="92.8" cy="263.9" r="0.56"/><circle cx="95.9" cy="278.6" r="0.51"/><circle cx="97.9" cy="274.7" r="0.35"/><circle cx="99.8" cy="282.0" r="0.48"/><circle cx="95.6" cy="279.5" r="0.37"/><circle cx="98.8" cy="268.1" r="0.37"/><circle cx="91.2" cy="281.4" r="0.40"/><circle cx="94.9" cy="271.7" r="0.47"/><circle cx="97.9" cy="282.5" r="0.50"/><circle cx="97.3" cy="263.2" r="0.39"/><circle cx="91.1" cy="281.8" r="0.43"/><circle cx="96.1" cy="261.3" r="0.37"/><circle cx="91.3" cy="279.8" r="0.52"/><circle cx="97.8" cy="269.1" r="0.48"/><circle cx="94.4" cy="274.1" r="0.38"/><circle cx="101.3" cy="266.6" r="0.59"/></g>
<g clip-path="url(#c10)">
<use href="#b5" transform="matrix(1.000,0,0,1.000,0.00,0.00)" fill="#c4c4c4"/>
<use href="#b5" transform="matrix(0.933,0,0,0.933,5.43,18.88)" fill="#a2a2a2"/>
<use href="#b5" transform="matrix(0.867,0,0,0.867,10.87,37.76)" fill="#808080"/>
<use href="#b5" transform="matrix(0.800,0,0,0.800,16.30,56.64)" fill="#5e5e5e"/>
<use href="#b5" transform="matrix(0.733,0,0,0.733,21.73,75.52)" fill="#3e3e3e"/>
<use href="#b5" transform="matrix(0.667,0,0,0.667,27.17,94.40)" fill="#222222"/>
<use href="#b5" transform="matrix(0.600,0,0,0.600,32.60,113.28)" fill="#3a3a3a" stroke="#fafafa" stroke-width="0.9" vector-effect="non-scaling-stroke"/>
<use href="#b5" transform="matrix(0.470,0,0,0.470,43.20,150.10)" fill="#343434" stroke="#f4f4f4" stroke-width="0.85" vector-effect="non-scaling-stroke"/>
<use href="#b5" transform="matrix(0.423,0,0,0.423,47.03,163.41)" fill="none" stroke="#222" stroke-width="0.6" vector-effect="non-scaling-stroke"/>
<use href="#b5" transform="matrix(0.350,0,0,0.350,52.98,184.08)" fill="#343434" stroke="#f4f4f4" stroke-width="0.85" vector-effect="non-scaling-stroke"/>
<use href="#b5" transform="matrix(0.315,0,0,0.315,55.83,193.99)" fill="none" stroke="#222" stroke-width="0.6" vector-effect="non-scaling-stroke"/>
<use href="#b5" transform="matrix(0.240,0,0,0.240,61.94,215.23)" fill="#343434" stroke="#f4f4f4" stroke-width="0.85" vector-effect="non-scaling-stroke"/>
<use href="#b5" transform="matrix(0.216,0,0,0.216,63.90,222.03)" fill="none" stroke="#222" stroke-width="0.6" vector-effect="non-scaling-stroke"/>
<use href="#b5" transform="matrix(0.160,0,0,0.160,68.46,237.89)" fill="#0a0a0a"/>
<use href="#b5" transform="matrix(1.000,0,0,1.000,0.00,0.00)" fill="none" stroke="#000" stroke-width="1.5" vector-effect="non-scaling-stroke"/>
<ellipse cx="81.5" cy="283.2" rx="2.2" ry="1.6" fill="#000"/>
</g>
<path d="M94.2,295.0 V260.4 H182.5" fill="none" stroke="#000" stroke-width="1.3"/>
<text x="151.24" y="292.60" font-size="14.60" font-weight="bold" fill="#000" textLength="28.98" lengthAdjust="spacingAndGlyphs" xml:space="preserve">0.75</text>
<rect x="182.5" y="187.5" width="108.0" height="108.0" fill="#fff" stroke="#8e8e8e" stroke-width="1.1"/>
<g clip-path="url(#c11)" fill="#9a9a9a"><circle cx="218.2" cy="284.0" r="0.59"/><circle cx="217.8" cy="268.5" r="0.40"/><circle cx="223.6" cy="265.0" r="0.48"/><circle cx="234.1" cy="275.2" r="0.57"/><circle cx="228.9" cy="267.5" r="0.57"/><circle cx="219.4" cy="261.7" r="0.35"/><circle cx="219.6" cy="273.6" r="0.43"/><circle cx="204.2" cy="270.6" r="0.43"/><circle cx="231.0" cy="284.5" r="0.38"/><circle cx="238.8" cy="281.0" r="0.58"/><circle cx="210.8" cy="271.4" r="0.45"/><circle cx="213.9" cy="273.0" r="0.42"/><circle cx="234.7" cy="269.0" r="0.58"/><circle cx="209.0" cy="268.4" r="0.48"/><circle cx="206.4" cy="271.5" r="0.59"/><circle cx="236.9" cy="283.7" r="0.51"/><circle cx="222.2" cy="281.1" r="0.36"/><circle cx="230.2" cy="273.6" r="0.54"/><circle cx="226.4" cy="269.0" r="0.36"/><circle cx="218.8" cy="270.6" r="0.42"/><circle cx="209.4" cy="279.4" r="0.43"/><circle cx="222.5" cy="272.0" r="0.39"/><circle cx="205.1" cy="266.8" r="0.58"/><circle cx="219.9" cy="267.2" r="0.58"/><circle cx="241.8" cy="273.6" r="0.38"/><circle cx="213.0" cy="263.6" r="0.41"/><circle cx="209.4" cy="276.9" r="0.57"/><circle cx="231.0" cy="272.6" r="0.45"/><circle cx="221.1" cy="271.6" r="0.43"/><circle cx="200.7" cy="268.8" r="0.59"/><circle cx="203.5" cy="275.1" r="0.51"/><circle cx="236.0" cy="267.0" r="0.42"/><circle cx="208.9" cy="272.2" r="0.46"/><circle cx="237.4" cy="274.3" r="0.50"/><circle cx="208.9" cy="264.1" r="0.39"/><circle cx="221.0" cy="280.1" r="0.59"/><circle cx="229.8" cy="279.1" r="0.54"/><circle cx="218.1" cy="276.4" r="0.36"/><circle cx="232.4" cy="267.5" r="0.58"/><circle cx="226.4" cy="269.5" r="0.38"/><circle cx="209.1" cy="278.8" r="0.52"/><circle cx="221.1" cy="277.3" r="0.45"/><circle cx="207.8" cy="277.8" r="0.35"/><circle cx="211.3" cy="273.9" r="0.59"/><circle cx="226.4" cy="285.7" r="0.47"/><circle cx="208.3" cy="267.9" r="0.59"/><circle cx="229.0" cy="269.6" r="0.36"/><circle cx="219.9" cy="279.9" r="0.46"/><circle cx="209.3" cy="279.7" r="0.58"/><circle cx="212.9" cy="272.8" r="0.52"/><circle cx="206.7" cy="283.3" r="0.53"/><circle cx="220.2" cy="266.7" r="0.59"/><circle cx="211.7" cy="284.0" r="0.41"/><circle cx="207.7" cy="282.3" r="0.42"/><circle cx="239.9" cy="274.9" r="0.40"/><circle cx="207.8" cy="272.7" r="0.52"/><circle cx="215.3" cy="267.0" r="0.59"/><circle cx="200.6" cy="272.0" r="0.57"/><circle cx="236.9" cy="281.5" r="0.60"/><circle cx="239.0" cy="270.2" r="0.40"/></g>
<g clip-path="url(#c11)">
<use href="#b6" transform="matrix(1.000,0,0,1.000,0.00,0.00)" fill="#c4c4c4"/>
<use href="#b6" transform="matrix(0.933,0,0,0.933,12.92,18.70)" fill="#a2a2a2"/>
<use href="#b6" transform="matrix(0.867,0,0,0.867,25.84,37.40)" fill="#808080"/>
<use href="#b6" transform="matrix(0.800,0,0,0.800,38.76,56.10)" fill="#5e5e5e"/>
<use href="#b6" transform="matrix(0.733,0,0,0.733,51.68,74.80)" fill="#3e3e3e"/>
<use href="#b6" transform="matrix(0.667,0,0,0.667,64.60,93.50)" fill="#222222"/>
<use href="#b6" transform="matrix(0.600,0,0,0.600,77.52,112.20)" fill="#3a3a3a" stroke="#fafafa" stroke-width="0.9" vector-effect="non-scaling-stroke"/>
<use href="#b6" transform="matrix(0.470,0,0,0.470,102.71,148.67)" fill="#343434" stroke="#f4f4f4" stroke-width="0.85" vector-effect="non-scaling-stroke"/>
<use href="#b6" transform="matrix(0.423,0,0,0.423,111.82,161.85)" fill="none" stroke="#222" stroke-width="0.6" vector-effect="non-scaling-stroke"/>
<use href="#b6" transform="matrix(0.350,0,0,0.350,125.97,182.33)" fill="#343434" stroke="#f4f4f4" stroke-width="0.85" vector-effect="non-scaling-stroke"/>
<use href="#b6" transform="matrix(0.315,0,0,0.315,132.75,192.14)" fill="none" stroke="#222" stroke-width="0.6" vector-effect="non-scaling-stroke"/>
<use href="#b6" transform="matrix(0.240,0,0,0.240,147.29,213.18)" fill="#343434" stroke="#f4f4f4" stroke-width="0.85" vector-effect="non-scaling-stroke"/>
<use href="#b6" transform="matrix(0.216,0,0,0.216,151.94,219.91)" fill="none" stroke="#222" stroke-width="0.6" vector-effect="non-scaling-stroke"/>
<use href="#b6" transform="matrix(0.160,0,0,0.160,162.79,235.62)" fill="#0a0a0a"/>
<use href="#b6" transform="matrix(1.000,0,0,1.000,0.00,0.00)" fill="none" stroke="#000" stroke-width="1.5" vector-effect="non-scaling-stroke"/>
<ellipse cx="193.8" cy="280.5" rx="2.2" ry="1.6" fill="#000"/>
</g>
<path d="M202.2,295.0 V260.4 H290.5" fill="none" stroke="#000" stroke-width="1.3"/>
<text x="259.42" y="292.60" font-size="14.60" font-weight="bold" fill="#000" textLength="28.98" lengthAdjust="spacingAndGlyphs" xml:space="preserve">14.2</text>
<rect x="290.5" y="187.5" width="108.0" height="108.0" fill="#fff" stroke="#8e8e8e" stroke-width="1.1"/>
<g clip-path="url(#c12)" fill="#9a9a9a"><circle cx="301.3" cy="275.3" r="0.44"/><circle cx="315.0" cy="264.6" r="0.39"/><circle cx="314.1" cy="284.6" r="0.38"/><circle cx="314.3" cy="280.3" r="0.56"/><circle cx="317.3" cy="255.6" r="0.47"/><circle cx="314.9" cy="283.4" r="0.40"/><circle cx="314.6" cy="282.7" r="0.36"/><circle cx="316.4" cy="280.0" r="0.54"/><circle cx="310.3" cy="277.9" r="0.57"/><circle cx="313.6" cy="262.7" r="0.59"/><circle cx="324.7" cy="262.4" r="0.53"/><circle cx="312.7" cy="262.8" r="0.35"/><circle cx="330.2" cy="283.3" r="0.51"/><circle cx="309.4" cy="269.2" r="0.59"/><circle cx="338.2" cy="266.4" r="0.41"/><circle cx="317.2" cy="269.8" r="0.58"/><circle cx="307.3" cy="279.7" r="0.53"/><circle cx="332.9" cy="278.7" r="0.50"/><circle cx="313.1" cy="264.2" r="0.44"/><circle cx="307.9" cy="278.1" r="0.41"/><circle cx="322.1" cy="264.4" r="0.60"/><circle cx="310.6" cy="256.7" r="0.37"/><circle cx="319.9" cy="276.7" r="0.46"/><circle cx="309.4" cy="267.3" r="0.51"/><circle cx="327.0" cy="277.9" r="0.56"/><circle cx="326.6" cy="257.9" r="0.56"/><circle cx="311.8" cy="272.1" r="0.44"/><circle cx="329.5" cy="260.4" r="0.41"/><circle cx="309.8" cy="258.9" r="0.57"/><circle cx="323.1" cy="264.4" r="0.45"/><circle cx="339.7" cy="270.2" r="0.41"/><circle cx="332.3" cy="274.9" r="0.60"/><circle cx="304.1" cy="269.2" r="0.55"/><circle cx="304.8" cy="260.1" r="0.59"/><circle cx="323.3" cy="283.8" r="0.44"/><circle cx="334.6" cy="268.4" r="0.41"/><circle cx="304.2" cy="273.1" r="0.50"/><circle cx="308.7" cy="265.8" r="0.39"/><circle cx="308.2" cy="262.2" r="0.50"/><circle cx="326.1" cy="260.5" r="0.35"/><circle cx="313.1" cy="275.7" r="0.40"/><circle cx="312.5" cy="260.5" r="0.55"/><circle cx="321.9" cy="256.0" r="0.38"/><circle cx="315.8" cy="271.6" r="0.51"/><circle cx="327.8" cy="267.1" r="0.42"/><circle cx="312.3" cy="284.5" r="0.43"/><circle cx="322.7" cy="265.4" r="0.45"/><circle cx="314.6" cy="260.3" r="0.53"/><circle cx="336.1" cy="267.6" r="0.56"/><circle cx="316.2" cy="282.3" r="0.47"/></g>
<g clip-path="url(#c12)">
<use href="#b7" transform="matrix(1.000,0,0,1.000,0.00,0.00)" fill="#c4c4c4"/>
<use href="#b7" transform="matrix(0.933,0,0,0.933,20.12,18.80)" fill="#a2a2a2"/>
<use href="#b7" transform="matrix(0.867,0,0,0.867,40.24,37.60)" fill="#808080"/>
<use href="#b7" transform="matrix(0.800,0,0,0.800,60.36,56.40)" fill="#5e5e5e"/>
<use href="#b7" transform="matrix(0.733,0,0,0.733,80.48,75.20)" fill="#3e3e3e"/>
<use href="#b7" transform="matrix(0.667,0,0,0.667,100.60,94.00)" fill="#222222"/>
<use href="#b7" transform="matrix(0.600,0,0,0.600,120.72,112.80)" fill="#3a3a3a" stroke="#fafafa" stroke-width="0.9" vector-effect="non-scaling-stroke"/>
<use href="#b7" transform="matrix(0.470,0,0,0.470,159.95,149.46)" fill="#343434" stroke="#f4f4f4" stroke-width="0.85" vector-effect="non-scaling-stroke"/>
<use href="#b7" transform="matrix(0.423,0,0,0.423,174.14,162.71)" fill="none" stroke="#222" stroke-width="0.6" vector-effect="non-scaling-stroke"/>
<use href="#b7" transform="matrix(0.350,0,0,0.350,196.17,183.30)" fill="#343434" stroke="#f4f4f4" stroke-width="0.85" vector-effect="non-scaling-stroke"/>
<use href="#b7" transform="matrix(0.315,0,0,0.315,206.73,193.17)" fill="none" stroke="#222" stroke-width="0.6" vector-effect="non-scaling-stroke"/>
<use href="#b7" transform="matrix(0.240,0,0,0.240,229.37,214.32)" fill="#343434" stroke="#f4f4f4" stroke-width="0.85" vector-effect="non-scaling-stroke"/>
<use href="#b7" transform="matrix(0.216,0,0,0.216,236.61,221.09)" fill="none" stroke="#222" stroke-width="0.6" vector-effect="non-scaling-stroke"/>
<use href="#b7" transform="matrix(0.160,0,0,0.160,253.51,236.88)" fill="#0a0a0a"/>
<use href="#b7" transform="matrix(1.000,0,0,1.000,0.00,0.00)" fill="none" stroke="#000" stroke-width="1.5" vector-effect="non-scaling-stroke"/>
<ellipse cx="301.8" cy="282.0" rx="2.2" ry="1.6" fill="#000"/>
</g>
<path d="M312.3,295.0 V259.8 H398.5" fill="none" stroke="#000" stroke-width="1.3"/>
<text x="366.89" y="292.60" font-size="14.60" font-weight="bold" fill="#000" textLength="28.98" lengthAdjust="spacingAndGlyphs" xml:space="preserve">7.34</text>
<rect x="398.5" y="187.5" width="108.0" height="108.0" fill="#fff" stroke="#8e8e8e" stroke-width="1.1"/>
<g clip-path="url(#c13)" fill="#9a9a9a"><circle cx="452.1" cy="278.4" r="0.58"/><circle cx="433.6" cy="277.9" r="0.44"/><circle cx="450.2" cy="266.5" r="0.42"/><circle cx="450.8" cy="285.2" r="0.38"/><circle cx="449.6" cy="282.3" r="0.59"/><circle cx="437.9" cy="266.0" r="0.59"/><circle cx="469.0" cy="274.6" r="0.36"/><circle cx="467.0" cy="272.3" r="0.58"/><circle cx="454.8" cy="282.8" r="0.39"/><circle cx="461.4" cy="268.3" r="0.45"/><circle cx="463.9" cy="282.9" r="0.40"/><circle cx="438.7" cy="272.6" r="0.48"/><circle cx="445.3" cy="266.0" r="0.41"/><circle cx="459.0" cy="284.5" r="0.36"/><circle cx="452.5" cy="281.2" r="0.36"/><circle cx="454.0" cy="276.2" r="0.51"/><circle cx="442.2" cy="273.1" r="0.50"/><circle cx="447.0" cy="278.8" r="0.46"/><circle cx="447.5" cy="263.6" r="0.50"/><circle cx="449.6" cy="268.6" r="0.54"/><circle cx="461.2" cy="274.0" r="0.39"/><circle cx="448.9" cy="265.6" r="0.38"/><circle cx="447.2" cy="265.2" r="0.46"/><circle cx="450.4" cy="264.0" r="0.51"/><circle cx="433.3" cy="280.6" r="0.54"/><circle cx="450.5" cy="264.3" r="0.48"/><circle cx="445.1" cy="285.8" r="0.38"/><circle cx="459.3" cy="282.6" r="0.40"/><circle cx="469.3" cy="274.8" r="0.59"/><circle cx="432.6" cy="271.4" r="0.54"/></g>
<g clip-path="url(#c13)">
<use href="#b8" transform="matrix(1.000,0,0,1.000,0.00,0.00)" fill="#c4c4c4"/>
<use href="#b8" transform="matrix(0.933,0,0,0.933,27.25,18.65)" fill="#a2a2a2"/>
<use href="#b8" transform="matrix(0.867,0,0,0.867,54.49,37.31)" fill="#808080"/>
<use href="#b8" transform="matrix(0.800,0,0,0.800,81.74,55.96)" fill="#5e5e5e"/>
<use href="#b8" transform="matrix(0.733,0,0,0.733,108.99,74.61)" fill="#3e3e3e"/>
<use href="#b8" transform="matrix(0.667,0,0,0.667,136.23,93.27)" fill="#222222"/>
<use href="#b8" transform="matrix(0.600,0,0,0.600,163.48,111.92)" fill="#3a3a3a" stroke="#fafafa" stroke-width="0.9" vector-effect="non-scaling-stroke"/>
<use href="#b8" transform="matrix(0.470,0,0,0.470,216.61,148.29)" fill="#343434" stroke="#f4f4f4" stroke-width="0.85" vector-effect="non-scaling-stroke"/>
<use href="#b8" transform="matrix(0.423,0,0,0.423,235.82,161.44)" fill="none" stroke="#222" stroke-width="0.6" vector-effect="non-scaling-stroke"/>
<use href="#b8" transform="matrix(0.350,0,0,0.350,265.66,181.87)" fill="#343434" stroke="#f4f4f4" stroke-width="0.85" vector-effect="non-scaling-stroke"/>
<use href="#b8" transform="matrix(0.315,0,0,0.315,279.96,191.66)" fill="none" stroke="#222" stroke-width="0.6" vector-effect="non-scaling-stroke"/>
<use href="#b8" transform="matrix(0.240,0,0,0.240,310.61,212.65)" fill="#343434" stroke="#f4f4f4" stroke-width="0.85" vector-effect="non-scaling-stroke"/>
<use href="#b8" transform="matrix(0.216,0,0,0.216,320.42,219.36)" fill="none" stroke="#222" stroke-width="0.6" vector-effect="non-scaling-stroke"/>
<use href="#b8" transform="matrix(0.160,0,0,0.160,343.31,235.03)" fill="#0a0a0a"/>
<use href="#b8" transform="matrix(1.000,0,0,1.000,0.00,0.00)" fill="none" stroke="#000" stroke-width="1.5" vector-effect="non-scaling-stroke"/>
<ellipse cx="408.7" cy="279.8" rx="2.2" ry="1.6" fill="#000"/>
</g>
<path d="M420.3,295.0 V259.0 H506.5" fill="none" stroke="#000" stroke-width="1.3"/>
<text x="475.42" y="292.60" font-size="14.60" font-weight="bold" fill="#000" textLength="28.98" lengthAdjust="spacingAndGlyphs" xml:space="preserve">18.2</text>
<rect x="52" y="295.0" width="21.5" height="108.0" fill="#fff"/>
<text x="52.62" y="308.35" font-size="10.40" fill="#1a1a1a" textLength="17.70" lengthAdjust="spacingAndGlyphs" xml:space="preserve">30K</text>
<rect x="71.2" y="304.2" width="3" height="0.9" fill="#555"/>
<text x="52.50" y="341.55" font-size="10.40" fill="#1a1a1a" textLength="17.82" lengthAdjust="spacingAndGlyphs" xml:space="preserve">20K</text>
<rect x="71.2" y="337.4" width="3" height="0.9" fill="#555"/>
<text x="52.64" y="374.65" font-size="10.40" fill="#1a1a1a" textLength="17.68" lengthAdjust="spacingAndGlyphs" xml:space="preserve">10K</text>
<rect x="71.2" y="370.4" width="3" height="0.9" fill="#555"/>
<text x="64.79" y="407.75" font-size="10.40" fill="#1a1a1a" textLength="5.82" lengthAdjust="spacingAndGlyphs" xml:space="preserve">0</text>
<rect x="71.2" y="403.6" width="3" height="0.9" fill="#555"/>
<rect x="72.6" y="297.0" width="1.6" height="0.6" fill="#999"/>
<rect x="72.6" y="301.0" width="1.6" height="0.6" fill="#999"/>
<rect x="72.6" y="305.0" width="1.6" height="0.6" fill="#999"/>
<rect x="72.6" y="309.0" width="1.6" height="0.6" fill="#999"/>
<rect x="72.6" y="313.0" width="1.6" height="0.6" fill="#999"/>
<rect x="72.6" y="317.0" width="1.6" height="0.6" fill="#999"/>
<rect x="72.6" y="321.0" width="1.6" height="0.6" fill="#999"/>
<rect x="72.6" y="325.0" width="1.6" height="0.6" fill="#999"/>
<rect x="72.6" y="329.0" width="1.6" height="0.6" fill="#999"/>
<rect x="72.6" y="333.0" width="1.6" height="0.6" fill="#999"/>
<rect x="72.6" y="337.0" width="1.6" height="0.6" fill="#999"/>
<rect x="72.6" y="341.0" width="1.6" height="0.6" fill="#999"/>
<rect x="72.6" y="345.0" width="1.6" height="0.6" fill="#999"/>
<rect x="72.6" y="349.0" width="1.6" height="0.6" fill="#999"/>
<rect x="72.6" y="353.0" width="1.6" height="0.6" fill="#999"/>
<rect x="72.6" y="357.0" width="1.6" height="0.6" fill="#999"/>
<rect x="72.6" y="361.0" width="1.6" height="0.6" fill="#999"/>
<rect x="72.6" y="365.0" width="1.6" height="0.6" fill="#999"/>
<rect x="72.6" y="369.0" width="1.6" height="0.6" fill="#999"/>
<rect x="72.6" y="373.0" width="1.6" height="0.6" fill="#999"/>
<rect x="72.6" y="377.0" width="1.6" height="0.6" fill="#999"/>
<rect x="72.6" y="381.0" width="1.6" height="0.6" fill="#999"/>
<rect x="72.6" y="385.0" width="1.6" height="0.6" fill="#999"/>
<rect x="72.6" y="389.0" width="1.6" height="0.6" fill="#999"/>
<rect x="72.6" y="393.0" width="1.6" height="0.6" fill="#999"/>
<rect x="72.6" y="397.0" width="1.6" height="0.6" fill="#999"/>
<rect x="72.6" y="401.0" width="1.6" height="0.6" fill="#999"/>
<rect x="74.5" y="295.5" width="108.0" height="108.0" fill="#fff" stroke="#8e8e8e" stroke-width="1.1"/>
<g clip-path="url(#c20)" fill="#9a9a9a"><circle cx="105.5" cy="391.3" r="0.39"/><circle cx="110.0" cy="393.4" r="0.40"/><circle cx="105.3" cy="385.1" r="0.43"/><circle cx="113.6" cy="392.9" r="0.39"/><circle cx="115.7" cy="377.3" r="0.48"/><circle cx="112.7" cy="382.2" r="0.57"/><circle cx="111.1" cy="386.6" r="0.57"/><circle cx="112.6" cy="382.9" r="0.55"/><circle cx="111.5" cy="382.2" r="0.54"/><circle cx="108.8" cy="378.5" r="0.54"/><circle cx="105.1" cy="387.8" r="0.60"/><circle cx="111.7" cy="388.3" r="0.43"/><circle cx="103.0" cy="387.3" r="0.46"/><circle cx="110.3" cy="392.9" r="0.38"/><circle cx="104.5" cy="388.1" r="0.36"/></g>
<g clip-path="url(#c20)">
<use href="#b9" transform="matrix(1.000,0,0,1.000,0.00,0.00)" fill="#c4c4c4"/>
<use href="#b9" transform="matrix(0.933,0,0,0.933,6.49,25.84)" fill="#a2a2a2"/>
<use href="#b9" transform="matrix(0.867,0,0,0.867,12.99,51.68)" fill="#808080"/>
<use href="#b9" transform="matrix(0.800,0,0,0.800,19.48,77.52)" fill="#5e5e5e"/>
<use href="#b9" transform="matrix(0.733,0,0,0.733,25.97,103.36)" fill="#3e3e3e"/>
<use href="#b9" transform="matrix(0.667,0,0,0.667,32.47,129.20)" fill="#222222"/>
<use href="#b9" transform="matrix(0.600,0,0,0.600,38.96,155.04)" fill="#3a3a3a" stroke="#fafafa" stroke-width="0.9" vector-effect="non-scaling-stroke"/>
<use href="#b9" transform="matrix(0.470,0,0,0.470,51.62,205.43)" fill="#343434" stroke="#f4f4f4" stroke-width="0.85" vector-effect="non-scaling-stroke"/>
<use href="#b9" transform="matrix(0.423,0,0,0.423,56.20,223.65)" fill="none" stroke="#222" stroke-width="0.6" vector-effect="non-scaling-stroke"/>
<use href="#b9" transform="matrix(0.350,0,0,0.350,63.31,251.94)" fill="#343434" stroke="#f4f4f4" stroke-width="0.85" vector-effect="non-scaling-stroke"/>
<use href="#b9" transform="matrix(0.315,0,0,0.315,66.72,265.51)" fill="none" stroke="#222" stroke-width="0.6" vector-effect="non-scaling-stroke"/>
<use href="#b9" transform="matrix(0.240,0,0,0.240,74.02,294.58)" fill="#343434" stroke="#f4f4f4" stroke-width="0.85" vector-effect="non-scaling-stroke"/>
<use href="#b9" transform="matrix(0.216,0,0,0.216,76.36,303.88)" fill="none" stroke="#222" stroke-width="0.6" vector-effect="non-scaling-stroke"/>
<use href="#b9" transform="matrix(0.160,0,0,0.160,81.82,325.58)" fill="#0a0a0a"/>
<use href="#b9" transform="matrix(1.000,0,0,1.000,0.00,0.00)" fill="none" stroke="#000" stroke-width="1.5" vector-effect="non-scaling-stroke"/>
<ellipse cx="97.4" cy="387.6" rx="2.2" ry="1.6" fill="#000"/>
</g>
<path d="M112.2,403.0 V362.2 H182.5" fill="none" stroke="#000" stroke-width="1.3"/>
<text x="158.52" y="401.20" font-size="14.60" font-weight="bold" fill="#000" textLength="20.70" lengthAdjust="spacingAndGlyphs" xml:space="preserve">1.1</text>
<rect x="182.5" y="295.5" width="108.0" height="108.0" fill="#fff" stroke="#8e8e8e" stroke-width="1.1"/>
<g clip-path="url(#c21)" fill="#9a9a9a"><circle cx="215.8" cy="376.0" r="0.41"/><circle cx="233.0" cy="382.5" r="0.40"/><circle cx="234.5" cy="379.3" r="0.38"/><circle cx="235.0" cy="390.4" r="0.55"/><circle cx="226.5" cy="373.4" r="0.35"/><circle cx="235.2" cy="381.7" r="0.44"/><circle cx="235.2" cy="378.4" r="0.58"/><circle cx="238.4" cy="373.0" r="0.58"/><circle cx="213.6" cy="380.9" r="0.45"/><circle cx="231.8" cy="392.3" r="0.39"/><circle cx="219.2" cy="383.0" r="0.48"/><circle cx="235.1" cy="388.8" r="0.39"/><circle cx="223.1" cy="374.4" r="0.36"/><circle cx="244.0" cy="387.9" r="0.53"/><circle cx="238.8" cy="379.0" r="0.54"/><circle cx="228.3" cy="372.3" r="0.38"/><circle cx="224.1" cy="387.0" r="0.52"/><circle cx="242.4" cy="385.9" r="0.42"/><circle cx="231.9" cy="378.2" r="0.55"/><circle cx="230.8" cy="373.4" r="0.51"/><circle cx="221.4" cy="372.6" r="0.54"/><circle cx="223.8" cy="390.6" r="0.43"/><circle cx="220.6" cy="391.4" r="0.51"/><circle cx="236.9" cy="384.6" r="0.59"/><circle cx="228.9" cy="389.5" r="0.52"/></g>
<g clip-path="url(#c21)">
<use href="#b10" transform="matrix(1.000,0,0,1.000,0.00,0.00)" fill="#c4c4c4"/>
<use href="#b10" transform="matrix(0.933,0,0,0.933,14.25,25.84)" fill="#a2a2a2"/>
<use href="#b10" transform="matrix(0.867,0,0,0.867,28.51,51.68)" fill="#808080"/>
<use href="#b10" transform="matrix(0.800,0,0,0.800,42.76,77.52)" fill="#5e5e5e"/>
<use href="#b10" transform="matrix(0.733,0,0,0.733,57.01,103.36)" fill="#3e3e3e"/>
<use href="#b10" transform="matrix(0.667,0,0,0.667,71.27,129.20)" fill="#222222"/>
<use href="#b10" transform="matrix(0.600,0,0,0.600,85.52,155.04)" fill="#3a3a3a" stroke="#fafafa" stroke-width="0.9" vector-effect="non-scaling-stroke"/>
<use href="#b10" transform="matrix(0.470,0,0,0.470,113.31,205.43)" fill="#343434" stroke="#f4f4f4" stroke-width="0.85" vector-effect="non-scaling-stroke"/>
<use href="#b10" transform="matrix(0.423,0,0,0.423,123.36,223.65)" fill="none" stroke="#222" stroke-width="0.6" vector-effect="non-scaling-stroke"/>
<use href="#b10" transform="matrix(0.350,0,0,0.350,138.97,251.94)" fill="#343434" stroke="#f4f4f4" stroke-width="0.85" vector-effect="non-scaling-stroke"/>
<use href="#b10" transform="matrix(0.315,0,0,0.315,146.45,265.51)" fill="none" stroke="#222" stroke-width="0.6" vector-effect="non-scaling-stroke"/>
<use href="#b10" transform="matrix(0.240,0,0,0.240,162.49,294.58)" fill="#343434" stroke="#f4f4f4" stroke-width="0.85" vector-effect="non-scaling-stroke"/>
<use href="#b10" transform="matrix(0.216,0,0,0.216,167.62,303.88)" fill="none" stroke="#222" stroke-width="0.6" vector-effect="non-scaling-stroke"/>
<use href="#b10" transform="matrix(0.160,0,0,0.160,179.59,325.58)" fill="#0a0a0a"/>
<use href="#b10" transform="matrix(1.000,0,0,1.000,0.00,0.00)" fill="none" stroke="#000" stroke-width="1.5" vector-effect="non-scaling-stroke"/>
<ellipse cx="213.8" cy="387.6" rx="2.2" ry="1.6" fill="#000"/>
</g>
<path d="M220.6,403.0 V361.8 H290.5" fill="none" stroke="#000" stroke-width="1.3"/>
<text x="259.37" y="401.20" font-size="14.60" font-weight="bold" fill="#000" textLength="28.98" lengthAdjust="spacingAndGlyphs" xml:space="preserve">20.9</text>
<rect x="290.5" y="295.5" width="108.0" height="108.0" fill="#fff" stroke="#8e8e8e" stroke-width="1.1"/>
<g clip-path="url(#c22)" fill="#9a9a9a"><circle cx="350.7" cy="373.0" r="0.53"/><circle cx="338.1" cy="368.8" r="0.40"/><circle cx="340.4" cy="361.5" r="0.58"/><circle cx="328.2" cy="363.5" r="0.36"/><circle cx="314.8" cy="381.2" r="0.51"/><circle cx="343.7" cy="382.6" r="0.37"/><circle cx="339.0" cy="370.6" r="0.55"/><circle cx="317.7" cy="365.6" r="0.38"/><circle cx="348.7" cy="379.3" r="0.56"/><circle cx="340.8" cy="368.2" r="0.37"/><circle cx="317.3" cy="383.2" r="0.40"/><circle cx="327.0" cy="372.6" r="0.36"/><circle cx="324.3" cy="368.0" r="0.53"/><circle cx="329.2" cy="369.3" r="0.59"/><circle cx="335.2" cy="386.2" r="0.50"/><circle cx="314.4" cy="372.2" r="0.46"/><circle cx="347.0" cy="370.1" r="0.53"/><circle cx="336.7" cy="365.9" r="0.57"/><circle cx="321.9" cy="383.4" r="0.59"/><circle cx="313.2" cy="374.7" r="0.47"/><circle cx="348.1" cy="364.9" r="0.47"/><circle cx="328.3" cy="385.6" r="0.42"/><circle cx="354.5" cy="368.1" r="0.40"/><circle cx="343.8" cy="374.9" r="0.38"/><circle cx="341.0" cy="361.6" r="0.55"/><circle cx="343.7" cy="384.2" r="0.51"/><circle cx="328.6" cy="371.8" r="0.45"/><circle cx="322.1" cy="367.4" r="0.58"/><circle cx="335.1" cy="371.1" r="0.57"/><circle cx="323.3" cy="373.7" r="0.48"/></g>
<g clip-path="url(#c22)">
<use href="#b11" transform="matrix(1.000,0,0,1.000,0.00,0.00)" fill="#c4c4c4"/>
<use href="#b11" transform="matrix(0.933,0,0,0.933,20.89,25.70)" fill="#a2a2a2"/>
<use href="#b11" transform="matrix(0.867,0,0,0.867,41.79,51.40)" fill="#808080"/>
<use href="#b11" transform="matrix(0.800,0,0,0.800,62.68,77.10)" fill="#5e5e5e"/>
<use href="#b11" transform="matrix(0.733,0,0,0.733,83.57,102.80)" fill="#3e3e3e"/>
<use href="#b11" transform="matrix(0.667,0,0,0.667,104.47,128.50)" fill="#222222"/>
<use href="#b11" transform="matrix(0.600,0,0,0.600,125.36,154.20)" fill="#3a3a3a" stroke="#fafafa" stroke-width="0.9" vector-effect="non-scaling-stroke"/>
<use href="#b11" transform="matrix(0.470,0,0,0.470,166.10,204.31)" fill="#343434" stroke="#f4f4f4" stroke-width="0.85" vector-effect="non-scaling-stroke"/>
<use href="#b11" transform="matrix(0.423,0,0,0.423,180.83,222.43)" fill="none" stroke="#222" stroke-width="0.6" vector-effect="non-scaling-stroke"/>
<use href="#b11" transform="matrix(0.350,0,0,0.350,203.71,250.58)" fill="#343434" stroke="#f4f4f4" stroke-width="0.85" vector-effect="non-scaling-stroke"/>
<use href="#b11" transform="matrix(0.315,0,0,0.315,214.68,264.07)" fill="none" stroke="#222" stroke-width="0.6" vector-effect="non-scaling-stroke"/>
<use href="#b11" transform="matrix(0.240,0,0,0.240,238.18,292.98)" fill="#343434" stroke="#f4f4f4" stroke-width="0.85" vector-effect="non-scaling-stroke"/>
<use href="#b11" transform="matrix(0.216,0,0,0.216,245.71,302.23)" fill="none" stroke="#222" stroke-width="0.6" vector-effect="non-scaling-stroke"/>
<use href="#b11" transform="matrix(0.160,0,0,0.160,263.26,323.82)" fill="#0a0a0a"/>
<use href="#b11" transform="matrix(1.000,0,0,1.000,0.00,0.00)" fill="none" stroke="#000" stroke-width="1.5" vector-effect="non-scaling-stroke"/>
<ellipse cx="313.4" cy="385.5" rx="2.2" ry="1.6" fill="#000"/>
</g>
<g clip-path="url(#c22)">
<use href="#b12" transform="matrix(1.000,0,0,1.000,0.00,0.00)" fill="#c4c4c4"/>
<use href="#b12" transform="matrix(0.933,0,0,0.933,22.47,25.83)" fill="#a2a2a2"/>
<use href="#b12" transform="matrix(0.867,0,0,0.867,44.93,51.67)" fill="#808080"/>
<use href="#b12" transform="matrix(0.800,0,0,0.800,67.40,77.50)" fill="#5e5e5e"/>
<use href="#b12" transform="matrix(0.733,0,0,0.733,89.87,103.33)" fill="#3e3e3e"/>
<use href="#b12" transform="matrix(0.667,0,0,0.667,112.33,129.17)" fill="#222222"/>
<use href="#b12" transform="matrix(0.600,0,0,0.600,134.80,155.00)" fill="#3a3a3a" stroke="#fafafa" stroke-width="0.9" vector-effect="non-scaling-stroke"/>
<use href="#b12" transform="matrix(0.300,0,0,0.300,235.90,271.25)" fill="#0a0a0a"/>
<use href="#b12" transform="matrix(1.000,0,0,1.000,0.00,0.00)" fill="none" stroke="#000" stroke-width="1.5" vector-effect="non-scaling-stroke"/>
<ellipse cx="337.0" cy="387.5" rx="1.8" ry="1.4" fill="#000"/>
</g>
<path d="M328.2,403.0 V361.8 H398.5" fill="none" stroke="#000" stroke-width="1.3"/>
<text x="367.28" y="401.20" font-size="14.60" font-weight="bold" fill="#000" textLength="28.98" lengthAdjust="spacingAndGlyphs" xml:space="preserve">7.38</text>
<rect x="398.5" y="295.5" width="108.0" height="108.0" fill="#fff" stroke="#8e8e8e" stroke-width="1.1"/>
<g clip-path="url(#c23)" fill="#9a9a9a"><circle cx="458.1" cy="386.1" r="0.51"/><circle cx="445.2" cy="375.8" r="0.39"/><circle cx="461.0" cy="383.9" r="0.54"/><circle cx="439.4" cy="378.5" r="0.54"/><circle cx="452.5" cy="371.0" r="0.47"/><circle cx="462.3" cy="373.7" r="0.40"/><circle cx="443.6" cy="384.9" r="0.56"/><circle cx="438.9" cy="371.7" r="0.41"/><circle cx="444.5" cy="380.5" r="0.39"/><circle cx="444.5" cy="372.5" r="0.59"/><circle cx="457.3" cy="370.4" r="0.59"/><circle cx="437.3" cy="377.2" r="0.60"/><circle cx="459.4" cy="385.6" r="0.46"/><circle cx="440.3" cy="383.3" r="0.38"/><circle cx="440.6" cy="377.3" r="0.36"/><circle cx="446.8" cy="387.0" r="0.52"/><circle cx="450.0" cy="383.2" r="0.47"/><circle cx="438.5" cy="382.5" r="0.45"/><circle cx="457.7" cy="389.8" r="0.46"/><circle cx="452.4" cy="386.0" r="0.46"/></g>
<g clip-path="url(#c23)">
<use href="#b13" transform="matrix(1.000,0,0,1.000,0.00,0.00)" fill="#c4c4c4"/>
<use href="#b13" transform="matrix(0.933,0,0,0.933,28.51,25.77)" fill="#a2a2a2"/>
<use href="#b13" transform="matrix(0.867,0,0,0.867,57.03,51.53)" fill="#808080"/>
<use href="#b13" transform="matrix(0.800,0,0,0.800,85.54,77.30)" fill="#5e5e5e"/>
<use href="#b13" transform="matrix(0.733,0,0,0.733,114.05,103.07)" fill="#3e3e3e"/>
<use href="#b13" transform="matrix(0.667,0,0,0.667,142.57,128.83)" fill="#222222"/>
<use href="#b13" transform="matrix(0.600,0,0,0.600,171.08,154.60)" fill="#3a3a3a" stroke="#fafafa" stroke-width="0.9" vector-effect="non-scaling-stroke"/>
<use href="#b13" transform="matrix(0.470,0,0,0.470,226.68,204.84)" fill="#343434" stroke="#f4f4f4" stroke-width="0.85" vector-effect="non-scaling-stroke"/>
<use href="#b13" transform="matrix(0.423,0,0,0.423,246.78,223.01)" fill="none" stroke="#222" stroke-width="0.6" vector-effect="non-scaling-stroke"/>
<use href="#b13" transform="matrix(0.350,0,0,0.350,278.00,251.23)" fill="#343434" stroke="#f4f4f4" stroke-width="0.85" vector-effect="non-scaling-stroke"/>
<use href="#b13" transform="matrix(0.315,0,0,0.315,292.97,264.75)" fill="none" stroke="#222" stroke-width="0.6" vector-effect="non-scaling-stroke"/>
<use href="#b13" transform="matrix(0.240,0,0,0.240,325.05,293.74)" fill="#343434" stroke="#f4f4f4" stroke-width="0.85" vector-effect="non-scaling-stroke"/>
<use href="#b13" transform="matrix(0.216,0,0,0.216,335.32,303.02)" fill="none" stroke="#222" stroke-width="0.6" vector-effect="non-scaling-stroke"/>
<use href="#b13" transform="matrix(0.160,0,0,0.160,359.27,324.66)" fill="#0a0a0a"/>
<use href="#b13" transform="matrix(1.000,0,0,1.000,0.00,0.00)" fill="none" stroke="#000" stroke-width="1.5" vector-effect="non-scaling-stroke"/>
<ellipse cx="427.7" cy="386.5" rx="2.2" ry="1.6" fill="#000"/>
</g>
<path d="M436.2,403.0 V361.8 H506.5" fill="none" stroke="#000" stroke-width="1.3"/>
<text x="475.24" y="401.20" font-size="14.60" font-weight="bold" fill="#000" textLength="28.98" lengthAdjust="spacingAndGlyphs" xml:space="preserve">28.1</text>
<rect x="52" y="403.0" width="21.5" height="107.0" fill="#fff"/>
<text x="52.62" y="416.35" font-size="10.40" fill="#1a1a1a" textLength="17.70" lengthAdjust="spacingAndGlyphs" xml:space="preserve">30K</text>
<rect x="71.2" y="412.2" width="3" height="0.9" fill="#555"/>
<text x="52.50" y="449.55" font-size="10.40" fill="#1a1a1a" textLength="17.82" lengthAdjust="spacingAndGlyphs" xml:space="preserve">20K</text>
<rect x="71.2" y="445.4" width="3" height="0.9" fill="#555"/>
<text x="52.64" y="482.65" font-size="10.40" fill="#1a1a1a" textLength="17.68" lengthAdjust="spacingAndGlyphs" xml:space="preserve">10K</text>
<rect x="71.2" y="478.4" width="3" height="0.9" fill="#555"/>
<text x="64.79" y="515.75" font-size="10.40" fill="#1a1a1a" textLength="5.82" lengthAdjust="spacingAndGlyphs" xml:space="preserve">0</text>
<rect x="71.2" y="511.6" width="3" height="0.9" fill="#555"/>
<rect x="72.6" y="405.0" width="1.6" height="0.6" fill="#999"/>
<rect x="72.6" y="409.0" width="1.6" height="0.6" fill="#999"/>
<rect x="72.6" y="413.0" width="1.6" height="0.6" fill="#999"/>
<rect x="72.6" y="417.0" width="1.6" height="0.6" fill="#999"/>
<rect x="72.6" y="421.0" width="1.6" height="0.6" fill="#999"/>
<rect x="72.6" y="425.0" width="1.6" height="0.6" fill="#999"/>
<rect x="72.6" y="429.0" width="1.6" height="0.6" fill="#999"/>
<rect x="72.6" y="433.0" width="1.6" height="0.6" fill="#999"/>
<rect x="72.6" y="437.0" width="1.6" height="0.6" fill="#999"/>
<rect x="72.6" y="441.0" width="1.6" height="0.6" fill="#999"/>
<rect x="72.6" y="445.0" width="1.6" height="0.6" fill="#999"/>
<rect x="72.6" y="449.0" width="1.6" height="0.6" fill="#999"/>
<rect x="72.6" y="453.0" width="1.6" height="0.6" fill="#999"/>
<rect x="72.6" y="457.0" width="1.6" height="0.6" fill="#999"/>
<rect x="72.6" y="461.0" width="1.6" height="0.6" fill="#999"/>
<rect x="72.6" y="465.0" width="1.6" height="0.6" fill="#999"/>
<rect x="72.6" y="469.0" width="1.6" height="0.6" fill="#999"/>
<rect x="72.6" y="473.0" width="1.6" height="0.6" fill="#999"/>
<rect x="72.6" y="477.0" width="1.6" height="0.6" fill="#999"/>
<rect x="72.6" y="481.0" width="1.6" height="0.6" fill="#999"/>
<rect x="72.6" y="485.0" width="1.6" height="0.6" fill="#999"/>
<rect x="72.6" y="489.0" width="1.6" height="0.6" fill="#999"/>
<rect x="72.6" y="493.0" width="1.6" height="0.6" fill="#999"/>
<rect x="72.6" y="497.0" width="1.6" height="0.6" fill="#999"/>
<rect x="72.6" y="501.0" width="1.6" height="0.6" fill="#999"/>
<rect x="72.6" y="505.0" width="1.6" height="0.6" fill="#999"/>
<rect x="72.6" y="509.0" width="1.6" height="0.6" fill="#999"/>
<rect x="74.5" y="403.5" width="108.0" height="107.0" fill="#fff" stroke="#8e8e8e" stroke-width="1.1"/>
<g clip-path="url(#c30)" fill="#9a9a9a"><circle cx="95.7" cy="496.2" r="0.57"/><circle cx="104.4" cy="495.6" r="0.56"/><circle cx="102.9" cy="494.0" r="0.46"/><circle cx="97.0" cy="493.6" r="0.37"/><circle cx="98.7" cy="497.9" r="0.53"/><circle cx="102.1" cy="483.0" r="0.46"/><circle cx="99.3" cy="493.4" r="0.45"/><circle cx="102.8" cy="502.0" r="0.40"/><circle cx="102.5" cy="497.8" r="0.45"/><circle cx="99.8" cy="503.3" r="0.36"/><circle cx="100.7" cy="480.5" r="0.55"/><circle cx="107.0" cy="490.5" r="0.38"/><circle cx="101.2" cy="491.1" r="0.53"/><circle cx="100.2" cy="493.9" r="0.56"/><circle cx="100.3" cy="487.5" r="0.59"/><circle cx="95.4" cy="495.2" r="0.45"/><circle cx="104.2" cy="479.4" r="0.60"/><circle cx="97.7" cy="477.6" r="0.42"/><circle cx="98.4" cy="476.4" r="0.45"/><circle cx="98.7" cy="495.6" r="0.44"/></g>
<g clip-path="url(#c30)">
<use href="#b14" transform="matrix(1.000,0,0,1.000,0.00,0.00)" fill="#c4c4c4"/>
<use href="#b14" transform="matrix(0.933,0,0,0.933,5.72,32.98)" fill="#a2a2a2"/>
<use href="#b14" transform="matrix(0.867,0,0,0.867,11.44,65.96)" fill="#808080"/>
<use href="#b14" transform="matrix(0.800,0,0,0.800,17.16,98.94)" fill="#5e5e5e"/>
<use href="#b14" transform="matrix(0.733,0,0,0.733,22.88,131.92)" fill="#3e3e3e"/>
<use href="#b14" transform="matrix(0.667,0,0,0.667,28.60,164.90)" fill="#222222"/>
<use href="#b14" transform="matrix(0.600,0,0,0.600,34.32,197.88)" fill="#3a3a3a" stroke="#fafafa" stroke-width="0.9" vector-effect="non-scaling-stroke"/>
<use href="#b14" transform="matrix(0.470,0,0,0.470,45.47,262.19)" fill="#343434" stroke="#f4f4f4" stroke-width="0.85" vector-effect="non-scaling-stroke"/>
<use href="#b14" transform="matrix(0.423,0,0,0.423,49.51,285.44)" fill="none" stroke="#222" stroke-width="0.6" vector-effect="non-scaling-stroke"/>
<use href="#b14" transform="matrix(0.350,0,0,0.350,55.77,321.56)" fill="#343434" stroke="#f4f4f4" stroke-width="0.85" vector-effect="non-scaling-stroke"/>
<use href="#b14" transform="matrix(0.315,0,0,0.315,58.77,338.87)" fill="none" stroke="#222" stroke-width="0.6" vector-effect="non-scaling-stroke"/>
<use href="#b14" transform="matrix(0.240,0,0,0.240,65.21,375.97)" fill="#343434" stroke="#f4f4f4" stroke-width="0.85" vector-effect="non-scaling-stroke"/>
<use href="#b14" transform="matrix(0.216,0,0,0.216,67.27,387.84)" fill="none" stroke="#222" stroke-width="0.6" vector-effect="non-scaling-stroke"/>
<use href="#b14" transform="matrix(0.160,0,0,0.160,72.07,415.55)" fill="#0a0a0a"/>
<use href="#b14" transform="matrix(1.000,0,0,1.000,0.00,0.00)" fill="none" stroke="#000" stroke-width="1.5" vector-effect="non-scaling-stroke"/>
<ellipse cx="85.8" cy="494.7" rx="2.2" ry="1.6" fill="#000"/>
</g>
<path d="M98.0,510.0 V465.5 H182.5" fill="none" stroke="#000" stroke-width="1.3"/>
<text x="151.24" y="508.30" font-size="14.60" font-weight="bold" fill="#000" textLength="28.98" lengthAdjust="spacingAndGlyphs" xml:space="preserve">1.25</text>
<rect x="182.5" y="403.5" width="108.0" height="107.0" fill="#fff" stroke="#8e8e8e" stroke-width="1.1"/>
<g clip-path="url(#c31)" fill="#9a9a9a"><circle cx="233.4" cy="477.3" r="0.54"/><circle cx="252.3" cy="485.8" r="0.40"/><circle cx="248.4" cy="482.0" r="0.40"/><circle cx="229.6" cy="492.7" r="0.55"/><circle cx="243.8" cy="484.1" r="0.49"/><circle cx="235.9" cy="488.9" r="0.55"/><circle cx="248.9" cy="484.1" r="0.42"/><circle cx="241.4" cy="474.5" r="0.56"/><circle cx="235.9" cy="494.8" r="0.42"/><circle cx="236.5" cy="478.1" r="0.46"/><circle cx="246.2" cy="478.9" r="0.41"/><circle cx="234.5" cy="484.4" r="0.46"/><circle cx="243.8" cy="489.5" r="0.44"/><circle cx="251.4" cy="493.0" r="0.39"/><circle cx="249.3" cy="488.7" r="0.35"/><circle cx="244.4" cy="478.0" r="0.38"/><circle cx="230.0" cy="477.5" r="0.54"/><circle cx="235.7" cy="475.3" r="0.58"/><circle cx="248.2" cy="475.7" r="0.57"/><circle cx="243.0" cy="492.9" r="0.52"/><circle cx="251.0" cy="493.1" r="0.56"/><circle cx="231.5" cy="490.4" r="0.48"/><circle cx="246.8" cy="483.3" r="0.57"/><circle cx="241.5" cy="478.4" r="0.41"/><circle cx="229.9" cy="484.8" r="0.36"/></g>
<g clip-path="url(#c31)">
<use href="#b15" transform="matrix(1.000,0,0,1.000,0.00,0.00)" fill="#c4c4c4"/>
<use href="#b15" transform="matrix(0.933,0,0,0.933,13.13,32.98)" fill="#a2a2a2"/>
<use href="#b15" transform="matrix(0.867,0,0,0.867,26.25,65.96)" fill="#808080"/>
<use href="#b15" transform="matrix(0.800,0,0,0.800,39.38,98.94)" fill="#5e5e5e"/>
<use href="#b15" transform="matrix(0.733,0,0,0.733,52.51,131.92)" fill="#3e3e3e"/>
<use href="#b15" transform="matrix(0.667,0,0,0.667,65.63,164.90)" fill="#222222"/>
<use href="#b15" transform="matrix(0.600,0,0,0.600,78.76,197.88)" fill="#3a3a3a" stroke="#fafafa" stroke-width="0.9" vector-effect="non-scaling-stroke"/>
<use href="#b15" transform="matrix(0.470,0,0,0.470,104.36,262.19)" fill="#343434" stroke="#f4f4f4" stroke-width="0.85" vector-effect="non-scaling-stroke"/>
<use href="#b15" transform="matrix(0.423,0,0,0.423,113.61,285.44)" fill="none" stroke="#222" stroke-width="0.6" vector-effect="non-scaling-stroke"/>
<use href="#b15" transform="matrix(0.350,0,0,0.350,127.99,321.56)" fill="#343434" stroke="#f4f4f4" stroke-width="0.85" vector-effect="non-scaling-stroke"/>
<use href="#b15" transform="matrix(0.315,0,0,0.315,134.88,338.87)" fill="none" stroke="#222" stroke-width="0.6" vector-effect="non-scaling-stroke"/>
<use href="#b15" transform="matrix(0.240,0,0,0.240,149.64,375.97)" fill="#343434" stroke="#f4f4f4" stroke-width="0.85" vector-effect="non-scaling-stroke"/>
<use href="#b15" transform="matrix(0.216,0,0,0.216,154.37,387.84)" fill="none" stroke="#222" stroke-width="0.6" vector-effect="non-scaling-stroke"/>
<use href="#b15" transform="matrix(0.160,0,0,0.160,165.40,415.55)" fill="#0a0a0a"/>
<use href="#b15" transform="matrix(1.000,0,0,1.000,0.00,0.00)" fill="none" stroke="#000" stroke-width="1.5" vector-effect="non-scaling-stroke"/>
<ellipse cx="196.9" cy="494.7" rx="2.2" ry="1.6" fill="#000"/>
<ellipse cx="216.0" cy="493.7" rx="4.2" ry="3.1" fill="#3a3a3a" stroke="#f4f4f4" stroke-width="0.8"/>
<ellipse cx="216.0" cy="493.7" rx="2.2" ry="1.6" fill="#000"/>
</g>
<path d="M206.0,510.0 V465.5 H290.5" fill="none" stroke="#000" stroke-width="1.3"/>
<text x="259.36" y="508.30" font-size="14.60" font-weight="bold" fill="#000" textLength="28.98" lengthAdjust="spacingAndGlyphs" xml:space="preserve">36.6</text>
<rect x="290.5" y="403.5" width="108.0" height="107.0" fill="#fff" stroke="#8e8e8e" stroke-width="1.1"/>
<g clip-path="url(#c32)" fill="#9a9a9a"><circle cx="343.8" cy="468.6" r="0.47"/><circle cx="344.9" cy="481.3" r="0.57"/><circle cx="343.8" cy="482.0" r="0.52"/><circle cx="357.3" cy="476.0" r="0.45"/><circle cx="349.9" cy="484.4" r="0.36"/><circle cx="348.9" cy="485.8" r="0.58"/><circle cx="345.4" cy="479.5" r="0.57"/><circle cx="349.5" cy="474.8" r="0.57"/><circle cx="340.2" cy="479.2" r="0.48"/><circle cx="354.7" cy="470.7" r="0.46"/><circle cx="342.2" cy="481.7" r="0.56"/><circle cx="337.5" cy="490.5" r="0.45"/><circle cx="345.1" cy="472.7" r="0.48"/><circle cx="362.1" cy="484.9" r="0.55"/><circle cx="338.9" cy="474.1" r="0.42"/><circle cx="348.1" cy="484.3" r="0.55"/><circle cx="358.9" cy="481.5" r="0.36"/><circle cx="348.9" cy="485.1" r="0.55"/><circle cx="359.8" cy="483.6" r="0.50"/><circle cx="349.6" cy="486.3" r="0.50"/><circle cx="351.5" cy="470.8" r="0.52"/><circle cx="343.5" cy="488.4" r="0.38"/><circle cx="354.9" cy="493.3" r="0.51"/><circle cx="340.3" cy="490.3" r="0.55"/><circle cx="347.2" cy="472.3" r="0.43"/><circle cx="342.2" cy="474.2" r="0.46"/><circle cx="350.1" cy="493.9" r="0.36"/><circle cx="347.4" cy="465.3" r="0.38"/><circle cx="356.2" cy="482.4" r="0.58"/><circle cx="343.1" cy="464.5" r="0.45"/><circle cx="348.3" cy="494.0" r="0.60"/><circle cx="344.1" cy="477.2" r="0.38"/><circle cx="350.2" cy="470.8" r="0.39"/><circle cx="351.6" cy="467.9" r="0.59"/><circle cx="352.9" cy="471.8" r="0.53"/></g>
<g clip-path="url(#c32)">
<use href="#b16" transform="matrix(1.000,0,0,1.000,0.00,0.00)" fill="#c4c4c4"/>
<use href="#b16" transform="matrix(0.933,0,0,0.933,20.19,32.98)" fill="#a2a2a2"/>
<use href="#b16" transform="matrix(0.867,0,0,0.867,40.37,65.96)" fill="#808080"/>
<use href="#b16" transform="matrix(0.800,0,0,0.800,60.56,98.94)" fill="#5e5e5e"/>
<use href="#b16" transform="matrix(0.733,0,0,0.733,80.75,131.92)" fill="#3e3e3e"/>
<use href="#b16" transform="matrix(0.667,0,0,0.667,100.93,164.90)" fill="#222222"/>
<use href="#b16" transform="matrix(0.600,0,0,0.600,121.12,197.88)" fill="#3a3a3a" stroke="#fafafa" stroke-width="0.9" vector-effect="non-scaling-stroke"/>
<use href="#b16" transform="matrix(0.470,0,0,0.470,160.48,262.19)" fill="#343434" stroke="#f4f4f4" stroke-width="0.85" vector-effect="non-scaling-stroke"/>
<use href="#b16" transform="matrix(0.423,0,0,0.423,174.72,285.44)" fill="none" stroke="#222" stroke-width="0.6" vector-effect="non-scaling-stroke"/>
<use href="#b16" transform="matrix(0.350,0,0,0.350,196.82,321.56)" fill="#343434" stroke="#f4f4f4" stroke-width="0.85" vector-effect="non-scaling-stroke"/>
<use href="#b16" transform="matrix(0.315,0,0,0.315,207.42,338.87)" fill="none" stroke="#222" stroke-width="0.6" vector-effect="non-scaling-stroke"/>
<use href="#b16" transform="matrix(0.240,0,0,0.240,230.13,375.97)" fill="#343434" stroke="#f4f4f4" stroke-width="0.85" vector-effect="non-scaling-stroke"/>
<use href="#b16" transform="matrix(0.216,0,0,0.216,237.40,387.84)" fill="none" stroke="#222" stroke-width="0.6" vector-effect="non-scaling-stroke"/>
<use href="#b16" transform="matrix(0.160,0,0,0.160,254.35,415.55)" fill="#0a0a0a"/>
<use href="#b16" transform="matrix(1.000,0,0,1.000,0.00,0.00)" fill="none" stroke="#000" stroke-width="1.5" vector-effect="non-scaling-stroke"/>
<ellipse cx="302.8" cy="494.7" rx="2.2" ry="1.6" fill="#000"/>
</g>
<path d="M313.4,510.0 V465.5 H398.5" fill="none" stroke="#000" stroke-width="1.3"/>
<text x="367.42" y="508.30" font-size="14.60" font-weight="bold" fill="#000" textLength="28.98" lengthAdjust="spacingAndGlyphs" xml:space="preserve">19.2</text>
<rect x="398.5" y="403.5" width="108.0" height="107.0" fill="#fff" stroke="#8e8e8e" stroke-width="1.1"/>
<g clip-path="url(#c33)" fill="#9a9a9a"><circle cx="467.7" cy="490.1" r="0.56"/><circle cx="466.4" cy="475.0" r="0.51"/><circle cx="465.9" cy="484.1" r="0.58"/><circle cx="454.7" cy="490.5" r="0.39"/><circle cx="470.1" cy="484.7" r="0.36"/><circle cx="456.3" cy="486.8" r="0.46"/><circle cx="465.0" cy="476.5" r="0.55"/><circle cx="456.2" cy="488.5" r="0.51"/><circle cx="457.7" cy="482.3" r="0.55"/><circle cx="461.9" cy="480.0" r="0.37"/><circle cx="469.2" cy="481.0" r="0.50"/><circle cx="462.8" cy="480.4" r="0.46"/><circle cx="470.9" cy="482.0" r="0.52"/><circle cx="462.8" cy="494.5" r="0.55"/><circle cx="453.4" cy="483.1" r="0.50"/><circle cx="468.8" cy="494.3" r="0.36"/><circle cx="469.3" cy="492.5" r="0.57"/><circle cx="462.0" cy="479.6" r="0.56"/><circle cx="468.6" cy="489.4" r="0.58"/><circle cx="455.7" cy="475.0" r="0.49"/></g>
<g clip-path="url(#c33)">
<use href="#b17" transform="matrix(1.000,0,0,1.000,0.00,0.00)" fill="#c4c4c4"/>
<use href="#b17" transform="matrix(0.933,0,0,0.933,27.67,33.08)" fill="#a2a2a2"/>
<use href="#b17" transform="matrix(0.867,0,0,0.867,55.33,66.16)" fill="#808080"/>
<use href="#b17" transform="matrix(0.800,0,0,0.800,83.00,99.24)" fill="#5e5e5e"/>
<use href="#b17" transform="matrix(0.733,0,0,0.733,110.67,132.32)" fill="#3e3e3e"/>
<use href="#b17" transform="matrix(0.667,0,0,0.667,138.33,165.40)" fill="#222222"/>
<use href="#b17" transform="matrix(0.600,0,0,0.600,166.00,198.48)" fill="#3a3a3a" stroke="#fafafa" stroke-width="0.9" vector-effect="non-scaling-stroke"/>
<use href="#b17" transform="matrix(0.470,0,0,0.470,219.95,262.99)" fill="#343434" stroke="#f4f4f4" stroke-width="0.85" vector-effect="non-scaling-stroke"/>
<use href="#b17" transform="matrix(0.423,0,0,0.423,239.45,286.31)" fill="none" stroke="#222" stroke-width="0.6" vector-effect="non-scaling-stroke"/>
<use href="#b17" transform="matrix(0.350,0,0,0.350,269.75,322.53)" fill="#343434" stroke="#f4f4f4" stroke-width="0.85" vector-effect="non-scaling-stroke"/>
<use href="#b17" transform="matrix(0.315,0,0,0.315,284.28,339.90)" fill="none" stroke="#222" stroke-width="0.6" vector-effect="non-scaling-stroke"/>
<use href="#b17" transform="matrix(0.240,0,0,0.240,315.40,377.11)" fill="#343434" stroke="#f4f4f4" stroke-width="0.85" vector-effect="non-scaling-stroke"/>
<use href="#b17" transform="matrix(0.216,0,0,0.216,325.36,389.02)" fill="none" stroke="#222" stroke-width="0.6" vector-effect="non-scaling-stroke"/>
<use href="#b17" transform="matrix(0.160,0,0,0.160,348.60,416.81)" fill="#0a0a0a"/>
<use href="#b17" transform="matrix(1.000,0,0,1.000,0.00,0.00)" fill="none" stroke="#000" stroke-width="1.5" vector-effect="non-scaling-stroke"/>
<ellipse cx="415.0" cy="496.2" rx="2.2" ry="1.6" fill="#000"/>
<ellipse cx="432.0" cy="493.7" rx="4.2" ry="3.1" fill="#3a3a3a" stroke="#f4f4f4" stroke-width="0.8"/>
<ellipse cx="432.0" cy="493.7" rx="2.2" ry="1.6" fill="#000"/>
</g>
<path d="M421.4,510.0 V465.5 H506.5" fill="none" stroke="#000" stroke-width="1.3"/>
<text x="475.42" y="508.30" font-size="14.60" font-weight="bold" fill="#000" textLength="28.98" lengthAdjust="spacingAndGlyphs" xml:space="preserve">48.2</text>
<text x="80.69" y="526.30" font-size="10.30" fill="#1a1a1a" textLength="5.73" lengthAdjust="spacingAndGlyphs" xml:space="preserve">0</text>
<text x="100.78" y="526.30" font-size="10.30" fill="#1a1a1a" textLength="11.46" lengthAdjust="spacingAndGlyphs" xml:space="preserve">10</text>
<text x="124.58" y="526.30" font-size="10.30" fill="#1a1a1a" textLength="11.46" lengthAdjust="spacingAndGlyphs" xml:space="preserve">10</text>
<text x="149.48" y="526.30" font-size="10.30" fill="#1a1a1a" textLength="11.46" lengthAdjust="spacingAndGlyphs" xml:space="preserve">10</text>
<text x="114.2" y="521" font-size="7.2" fill="#1a1a1a" text-anchor="middle">1</text>
<text x="139.0" y="521" font-size="7.2" fill="#1a1a1a" text-anchor="middle">2</text>
<text x="162.3" y="521" font-size="7.2" fill="#1a1a1a" text-anchor="middle">3</text>
<rect x="76.0" y="510.6" width="0.7" height="1.8" fill="#888"/>
<rect x="80.0" y="510.6" width="0.7" height="1.8" fill="#888"/>
<rect x="84.0" y="510.6" width="0.7" height="2.8" fill="#888"/>
<rect x="88.0" y="510.6" width="0.7" height="1.8" fill="#888"/>
<rect x="92.0" y="510.6" width="0.7" height="1.8" fill="#888"/>
<rect x="96.0" y="510.6" width="0.7" height="1.8" fill="#888"/>
<rect x="100.0" y="510.6" width="0.7" height="1.8" fill="#888"/>
<rect x="104.0" y="510.6" width="0.7" height="1.8" fill="#888"/>
<rect x="108.0" y="510.6" width="0.7" height="2.8" fill="#888"/>
<rect x="112.0" y="510.6" width="0.7" height="1.8" fill="#888"/>
<rect x="116.0" y="510.6" width="0.7" height="1.8" fill="#888"/>
<rect x="120.0" y="510.6" width="0.7" height="1.8" fill="#888"/>
<rect x="124.0" y="510.6" width="0.7" height="1.8" fill="#888"/>
<rect x="128.0" y="510.6" width="0.7" height="1.8" fill="#888"/>
<rect x="132.0" y="510.6" width="0.7" height="2.8" fill="#888"/>
<rect x="136.0" y="510.6" width="0.7" height="1.8" fill="#888"/>
<rect x="140.0" y="510.6" width="0.7" height="1.8" fill="#888"/>
<rect x="144.0" y="510.6" width="0.7" height="1.8" fill="#888"/>
<rect x="148.0" y="510.6" width="0.7" height="1.8" fill="#888"/>
<rect x="152.0" y="510.6" width="0.7" height="1.8" fill="#888"/>
<rect x="156.0" y="510.6" width="0.7" height="2.8" fill="#888"/>
<rect x="160.0" y="510.6" width="0.7" height="1.8" fill="#888"/>
<rect x="164.0" y="510.6" width="0.7" height="1.8" fill="#888"/>
<rect x="168.0" y="510.6" width="0.7" height="1.8" fill="#888"/>
<rect x="172.0" y="510.6" width="0.7" height="1.8" fill="#888"/>
<rect x="176.0" y="510.6" width="0.7" height="1.8" fill="#888"/>
<rect x="180.0" y="510.6" width="0.7" height="2.8" fill="#888"/>
<text x="188.69" y="526.30" font-size="10.30" fill="#1a1a1a" textLength="5.73" lengthAdjust="spacingAndGlyphs" xml:space="preserve">0</text>
<text x="208.78" y="526.30" font-size="10.30" fill="#1a1a1a" textLength="11.46" lengthAdjust="spacingAndGlyphs" xml:space="preserve">10</text>
<text x="232.58" y="526.30" font-size="10.30" fill="#1a1a1a" textLength="11.46" lengthAdjust="spacingAndGlyphs" xml:space="preserve">10</text>
<text x="257.48" y="526.30" font-size="10.30" fill="#1a1a1a" textLength="11.46" lengthAdjust="spacingAndGlyphs" xml:space="preserve">10</text>
<text x="222.2" y="521" font-size="7.2" fill="#1a1a1a" text-anchor="middle">1</text>
<text x="247.0" y="521" font-size="7.2" fill="#1a1a1a" text-anchor="middle">2</text>
<text x="270.3" y="521" font-size="7.2" fill="#1a1a1a" text-anchor="middle">3</text>
<rect x="184.0" y="510.6" width="0.7" height="1.8" fill="#888"/>
<rect x="188.0" y="510.6" width="0.7" height="1.8" fill="#888"/>
<rect x="192.0" y="510.6" width="0.7" height="2.8" fill="#888"/>
<rect x="196.0" y="510.6" width="0.7" height="1.8" fill="#888"/>
<rect x="200.0" y="510.6" width="0.7" height="1.8" fill="#888"/>
<rect x="204.0" y="510.6" width="0.7" height="1.8" fill="#888"/>
<rect x="208.0" y="510.6" width="0.7" height="1.8" fill="#888"/>
<rect x="212.0" y="510.6" width="0.7" height="1.8" fill="#888"/>
<rect x="216.0" y="510.6" width="0.7" height="2.8" fill="#888"/>
<rect x="220.0" y="510.6" width="0.7" height="1.8" fill="#888"/>
<rect x="224.0" y="510.6" width="0.7" height="1.8" fill="#888"/>
<rect x="228.0" y="510.6" width="0.7" height="1.8" fill="#888"/>
<rect x="232.0" y="510.6" width="0.7" height="1.8" fill="#888"/>
<rect x="236.0" y="510.6" width="0.7" height="1.8" fill="#888"/>
<rect x="240.0" y="510.6" width="0.7" height="2.8" fill="#888"/>
<rect x="244.0" y="510.6" width="0.7" height="1.8" fill="#888"/>
<rect x="248.0" y="510.6" width="0.7" height="1.8" fill="#888"/>
<rect x="252.0" y="510.6" width="0.7" height="1.8" fill="#888"/>
<rect x="256.0" y="510.6" width="0.7" height="1.8" fill="#888"/>
<rect x="260.0" y="510.6" width="0.7" height="1.8" fill="#888"/>
<rect x="264.0" y="510.6" width="0.7" height="2.8" fill="#888"/>
<rect x="268.0" y="510.6" width="0.7" height="1.8" fill="#888"/>
<rect x="272.0" y="510.6" width="0.7" height="1.8" fill="#888"/>
<rect x="276.0" y="510.6" width="0.7" height="1.8" fill="#888"/>
<rect x="280.0" y="510.6" width="0.7" height="1.8" fill="#888"/>
<rect x="284.0" y="510.6" width="0.7" height="1.8" fill="#888"/>
<rect x="288.0" y="510.6" width="0.7" height="2.8" fill="#888"/>
<text x="296.69" y="526.30" font-size="10.30" fill="#1a1a1a" textLength="5.73" lengthAdjust="spacingAndGlyphs" xml:space="preserve">0</text>
<text x="316.78" y="526.30" font-size="10.30" fill="#1a1a1a" textLength="11.46" lengthAdjust="spacingAndGlyphs" xml:space="preserve">10</text>
<text x="340.58" y="526.30" font-size="10.30" fill="#1a1a1a" textLength="11.46" lengthAdjust="spacingAndGlyphs" xml:space="preserve">10</text>
<text x="365.48" y="526.30" font-size="10.30" fill="#1a1a1a" textLength="11.46" lengthAdjust="spacingAndGlyphs" xml:space="preserve">10</text>
<text x="330.2" y="521" font-size="7.2" fill="#1a1a1a" text-anchor="middle">1</text>
<text x="355.0" y="521" font-size="7.2" fill="#1a1a1a" text-anchor="middle">2</text>
<text x="378.3" y="521" font-size="7.2" fill="#1a1a1a" text-anchor="middle">3</text>
<rect x="292.0" y="510.6" width="0.7" height="1.8" fill="#888"/>
<rect x="296.0" y="510.6" width="0.7" height="1.8" fill="#888"/>
<rect x="300.0" y="510.6" width="0.7" height="2.8" fill="#888"/>
<rect x="304.0" y="510.6" width="0.7" height="1.8" fill="#888"/>
<rect x="308.0" y="510.6" width="0.7" height="1.8" fill="#888"/>
<rect x="312.0" y="510.6" width="0.7" height="1.8" fill="#888"/>
<rect x="316.0" y="510.6" width="0.7" height="1.8" fill="#888"/>
<rect x="320.0" y="510.6" width="0.7" height="1.8" fill="#888"/>
<rect x="324.0" y="510.6" width="0.7" height="2.8" fill="#888"/>
<rect x="328.0" y="510.6" width="0.7" height="1.8" fill="#888"/>
<rect x="332.0" y="510.6" width="0.7" height="1.8" fill="#888"/>
<rect x="336.0" y="510.6" width="0.7" height="1.8" fill="#888"/>
<rect x="340.0" y="510.6" width="0.7" height="1.8" fill="#888"/>
<rect x="344.0" y="510.6" width="0.7" height="1.8" fill="#888"/>
<rect x="348.0" y="510.6" width="0.7" height="2.8" fill="#888"/>
<rect x="352.0" y="510.6" width="0.7" height="1.8" fill="#888"/>
<rect x="356.0" y="510.6" width="0.7" height="1.8" fill="#888"/>
<rect x="360.0" y="510.6" width="0.7" height="1.8" fill="#888"/>
<rect x="364.0" y="510.6" width="0.7" height="1.8" fill="#888"/>
<rect x="368.0" y="510.6" width="0.7" height="1.8" fill="#888"/>
<rect x="372.0" y="510.6" width="0.7" height="2.8" fill="#888"/>
<rect x="376.0" y="510.6" width="0.7" height="1.8" fill="#888"/>
<rect x="380.0" y="510.6" width="0.7" height="1.8" fill="#888"/>
<rect x="384.0" y="510.6" width="0.7" height="1.8" fill="#888"/>
<rect x="388.0" y="510.6" width="0.7" height="1.8" fill="#888"/>
<rect x="392.0" y="510.6" width="0.7" height="1.8" fill="#888"/>
<rect x="396.0" y="510.6" width="0.7" height="2.8" fill="#888"/>
<text x="404.69" y="526.30" font-size="10.30" fill="#1a1a1a" textLength="5.73" lengthAdjust="spacingAndGlyphs" xml:space="preserve">0</text>
<text x="424.78" y="526.30" font-size="10.30" fill="#1a1a1a" textLength="11.46" lengthAdjust="spacingAndGlyphs" xml:space="preserve">10</text>
<text x="448.58" y="526.30" font-size="10.30" fill="#1a1a1a" textLength="11.46" lengthAdjust="spacingAndGlyphs" xml:space="preserve">10</text>
<text x="473.48" y="526.30" font-size="10.30" fill="#1a1a1a" textLength="11.46" lengthAdjust="spacingAndGlyphs" xml:space="preserve">10</text>
<text x="438.2" y="521" font-size="7.2" fill="#1a1a1a" text-anchor="middle">1</text>
<text x="463.0" y="521" font-size="7.2" fill="#1a1a1a" text-anchor="middle">2</text>
<text x="486.3" y="521" font-size="7.2" fill="#1a1a1a" text-anchor="middle">3</text>
<rect x="400.0" y="510.6" width="0.7" height="1.8" fill="#888"/>
<rect x="404.0" y="510.6" width="0.7" height="1.8" fill="#888"/>
<rect x="408.0" y="510.6" width="0.7" height="2.8" fill="#888"/>
<rect x="412.0" y="510.6" width="0.7" height="1.8" fill="#888"/>
<rect x="416.0" y="510.6" width="0.7" height="1.8" fill="#888"/>
<rect x="420.0" y="510.6" width="0.7" height="1.8" fill="#888"/>
<rect x="424.0" y="510.6" width="0.7" height="1.8" fill="#888"/>
<rect x="428.0" y="510.6" width="0.7" height="1.8" fill="#888"/>
<rect x="432.0" y="510.6" width="0.7" height="2.8" fill="#888"/>
<rect x="436.0" y="510.6" width="0.7" height="1.8" fill="#888"/>
<rect x="440.0" y="510.6" width="0.7" height="1.8" fill="#888"/>
<rect x="444.0" y="510.6" width="0.7" height="1.8" fill="#888"/>
<rect x="448.0" y="510.6" width="0.7" height="1.8" fill="#888"/>
<rect x="452.0" y="510.6" width="0.7" height="1.8" fill="#888"/>
<rect x="456.0" y="510.6" width="0.7" height="2.8" fill="#888"/>
<rect x="460.0" y="510.6" width="0.7" height="1.8" fill="#888"/>
<rect x="464.0" y="510.6" width="0.7" height="1.8" fill="#888"/>
<rect x="468.0" y="510.6" width="0.7" height="1.8" fill="#888"/>
<rect x="472.0" y="510.6" width="0.7" height="1.8" fill="#888"/>
<rect x="476.0" y="510.6" width="0.7" height="1.8" fill="#888"/>
<rect x="480.0" y="510.6" width="0.7" height="2.8" fill="#888"/>
<rect x="484.0" y="510.6" width="0.7" height="1.8" fill="#888"/>
<rect x="488.0" y="510.6" width="0.7" height="1.8" fill="#888"/>
<rect x="492.0" y="510.6" width="0.7" height="1.8" fill="#888"/>
<rect x="496.0" y="510.6" width="0.7" height="1.8" fill="#888"/>
<rect x="500.0" y="510.6" width="0.7" height="1.8" fill="#888"/>
<rect x="504.0" y="510.6" width="0.7" height="2.8" fill="#888"/>
<rect x="44.1" y="102" width="3" height="380" fill="#000"/>
<path d="M45.6,88.3 L53.1,103.8 L38.1,103.8 Z" fill="#000"/>
<text transform="translate(51.30,515.64) rotate(-90)" font-size="15.20" font-weight="bold" fill="#000" textLength="31.25" lengthAdjust="spacingAndGlyphs" xml:space="preserve">SSC</text>
<text x="68.94" y="539.50" font-size="14.00" fill="#000" textLength="43.82" lengthAdjust="spacingAndGlyphs" xml:space="preserve">CXCR3</text>
<rect x="117.6" y="531.4" width="376" height="2.5" fill="#000"/>
<path d="M506.3,532.75 L491.9,525.7 L491.9,539.8 Z" fill="#000"/>
<text x="0.11" y="584.40" font-size="24.50" font-weight="bold" fill="#000" textLength="17.17" lengthAdjust="spacingAndGlyphs" xml:space="preserve">B</text>
<path d="M48.1,570.9 H298.5 V737" fill="none" stroke="#000" stroke-width="2.4"/>
<rect x="46.9" y="569.7" width="2.4" height="168.5" fill="#000"/>
<rect x="46.9" y="735.8" width="252.8" height="2.4" fill="#000"/>
<rect x="42.3" y="736.00" width="5.5" height="2" fill="#000"/>
<text x="34.82" y="740.75" font-size="11.70" fill="#000" textLength="6.86" lengthAdjust="spacingAndGlyphs" xml:space="preserve">0</text>
<rect x="42.3" y="694.48" width="5.5" height="2" fill="#000"/>
<text x="27.97" y="699.23" font-size="11.70" fill="#000" textLength="13.72" lengthAdjust="spacingAndGlyphs" xml:space="preserve">20</text>
<rect x="42.3" y="652.96" width="5.5" height="2" fill="#000"/>
<text x="27.97" y="657.71" font-size="11.70" fill="#000" textLength="13.72" lengthAdjust="spacingAndGlyphs" xml:space="preserve">40</text>
<rect x="42.3" y="611.44" width="5.5" height="2" fill="#000"/>
<text x="27.97" y="616.19" font-size="11.70" fill="#000" textLength="13.72" lengthAdjust="spacingAndGlyphs" xml:space="preserve">60</text>
<rect x="42.3" y="569.92" width="5.5" height="2" fill="#000"/>
<text x="27.97" y="574.67" font-size="11.70" fill="#000" textLength="13.72" lengthAdjust="spacingAndGlyphs" xml:space="preserve">80</text>
<text transform="translate(22.70,690.61) rotate(-90)" font-size="14.00" fill="#111" textLength="71.80" lengthAdjust="spacingAndGlyphs" xml:space="preserve">% CXCR3<tspan font-size="9" dy="-6">+</tspan></text>
<path d="M61.15,690.50 V688.50 M56.50,688.50 H65.80" fill="none" stroke="#000" stroke-width="1.6"/>
<path d="M79.25,713.00 V712.30 M74.00,712.30 H84.50" fill="none" stroke="#000" stroke-width="1.6"/>
<path d="M97.20,686.50 V679.00 M92.40,679.00 H102.00" fill="none" stroke="#000" stroke-width="1.6"/>
<path d="M123.80,696.20 V687.70 M118.80,687.70 H128.80" fill="none" stroke="#000" stroke-width="1.6"/>
<path d="M141.50,721.50 V718.90 M136.50,718.90 H146.50" fill="none" stroke="#000" stroke-width="1.6"/>
<path d="M159.20,699.70 V689.70 M154.20,689.70 H164.20" fill="none" stroke="#000" stroke-width="1.6"/>
<path d="M186.15,682.80 V678.50 M181.50,678.50 H190.80" fill="none" stroke="#000" stroke-width="1.6"/>
<path d="M203.85,707.20 V696.60 M199.20,696.60 H208.50" fill="none" stroke="#000" stroke-width="1.6"/>
<path d="M222.00,681.20 V669.50 M217.00,669.50 H227.00" fill="none" stroke="#000" stroke-width="1.6"/>
<path d="M248.65,649.80 V638.30 M243.80,638.30 H253.50" fill="none" stroke="#000" stroke-width="1.6"/>
<path d="M266.50,700.80 V698.50 M261.50,698.50 H271.50" fill="none" stroke="#000" stroke-width="1.6"/>
<path d="M283.85,636.30 V613.80 M279.00,613.80 H288.70" fill="none" stroke="#000" stroke-width="1.6"/>
<rect x="52.75" y="691.35" width="17.20" height="46.50" fill="#1e1e1e" stroke="#000" stroke-width="1.7"/>
<rect x="71.65" y="713.85" width="15.30" height="24.00" fill="url(#chk)" stroke="#000" stroke-width="1.7"/>
<rect x="88.65" y="687.35" width="17.00" height="50.50" fill="#fff" stroke="#000" stroke-width="1.7"/>
<rect x="92.32" y="688.20" width="1.15" height="48.80" fill="#7a7a7a"/>
<rect x="96.58" y="688.20" width="1.15" height="48.80" fill="#7a7a7a"/>
<rect x="100.83" y="688.20" width="1.15" height="48.80" fill="#7a7a7a"/>
<rect x="115.05" y="697.05" width="17.60" height="40.80" fill="#1e1e1e" stroke="#000" stroke-width="1.7"/>
<rect x="134.35" y="722.35" width="15.20" height="15.50" fill="url(#chk)" stroke="#000" stroke-width="1.7"/>
<rect x="151.25" y="700.55" width="16.30" height="37.30" fill="#fff" stroke="#000" stroke-width="1.7"/>
<rect x="154.75" y="701.40" width="1.15" height="35.60" fill="#7a7a7a"/>
<rect x="158.83" y="701.40" width="1.15" height="35.60" fill="#7a7a7a"/>
<rect x="162.90" y="701.40" width="1.15" height="35.60" fill="#7a7a7a"/>
<rect x="177.05" y="683.65" width="17.80" height="54.20" fill="#1e1e1e" stroke="#000" stroke-width="1.7"/>
<rect x="196.55" y="708.05" width="15.40" height="29.80" fill="url(#chk)" stroke="#000" stroke-width="1.7"/>
<rect x="213.65" y="682.05" width="16.70" height="55.80" fill="#fff" stroke="#000" stroke-width="1.7"/>
<rect x="217.25" y="682.90" width="1.15" height="54.10" fill="#7a7a7a"/>
<rect x="221.43" y="682.90" width="1.15" height="54.10" fill="#7a7a7a"/>
<rect x="225.60" y="682.90" width="1.15" height="54.10" fill="#7a7a7a"/>
<rect x="239.55" y="650.65" width="17.50" height="87.20" fill="#1e1e1e" stroke="#000" stroke-width="1.7"/>
<rect x="258.75" y="701.65" width="15.60" height="36.20" fill="url(#chk)" stroke="#000" stroke-width="1.7"/>
<rect x="276.05" y="637.15" width="16.60" height="100.70" fill="#fff" stroke="#000" stroke-width="1.7"/>
<rect x="279.62" y="638.00" width="1.15" height="99.00" fill="#7a7a7a"/>
<rect x="283.78" y="638.00" width="1.15" height="99.00" fill="#7a7a7a"/>
<rect x="287.93" y="638.00" width="1.15" height="99.00" fill="#7a7a7a"/>
<path d="M61.70,684.00 V678.60 H76.60 V707.50" fill="none" stroke="#000" stroke-width="1.8"/>
<polygon points="69.30,669.10 70.09,671.01 72.15,671.17 70.58,672.52 71.06,674.53 69.30,673.45 67.54,674.53 68.02,672.52 66.45,671.17 68.51,671.01" fill="#222"/>
<path d="M82.80,707.50 V669.00 H97.30 V675.50" fill="none" stroke="#000" stroke-width="1.8"/>
<polygon points="89.60,658.80 90.39,660.71 92.45,660.87 90.88,662.22 91.36,664.23 89.60,663.15 87.84,664.23 88.32,662.22 86.75,660.87 88.81,660.71" fill="#222"/>
<path d="M248.70,632.50 V625.80 H264.60 V697.90" fill="none" stroke="#000" stroke-width="1.8"/>
<polygon points="257.00,617.80 257.79,619.71 259.85,619.87 258.28,621.22 258.76,623.23 257.00,622.15 255.24,623.23 255.72,621.22 254.15,619.87 256.21,619.71" fill="#222"/>
<path d="M267.90,696.00 V603.00 H282.90 V610.40" fill="none" stroke="#000" stroke-width="1.8"/>
<polygon points="276.00,591.40 276.79,593.31 278.85,593.47 277.28,594.82 277.76,596.83 276.00,595.75 274.24,596.83 274.72,594.82 273.15,593.47 275.21,593.31" fill="#222"/>
<rect x="51.2" y="742.3" width="55.0" height="2.3" fill="#000"/>
<rect x="115.0" y="742.3" width="54.6" height="2.3" fill="#000"/>
<rect x="177.0" y="742.3" width="54.8" height="2.3" fill="#000"/>
<rect x="238.7" y="742.3" width="54.8" height="2.3" fill="#000"/>
<text x="63.06" y="758.50" font-size="15.00" font-weight="bold" fill="#000" textLength="31.12" lengthAdjust="spacingAndGlyphs" xml:space="preserve">CD4</text>
<text x="125.37" y="758.50" font-size="15.00" font-weight="bold" fill="#000" textLength="30.71" lengthAdjust="spacingAndGlyphs" xml:space="preserve">CD8</text>
<text x="192.21" y="758.50" font-size="15.00" font-weight="bold" fill="#000" textLength="21.45" lengthAdjust="spacingAndGlyphs" xml:space="preserve">NK</text>
<text x="248.34" y="758.50" font-size="15.00" font-weight="bold" fill="#000" textLength="35.43" lengthAdjust="spacingAndGlyphs" xml:space="preserve">iNKT</text>
<rect x="324.8" y="609.1" width="19.1" height="10.3" rx="0.8" fill="#1e1e1e" stroke="#000" stroke-width="1.6"/>
<rect x="325" y="629" width="19" height="26.6" fill="url(#chk)" stroke="#000" stroke-width="1.7"/>
<rect x="325" y="664.5" width="19" height="26.5" fill="#fff" stroke="#000" stroke-width="1.8"/>
<rect x="329.53" y="665.4" width="1.15" height="24.7" fill="#7a7a7a"/>
<rect x="333.93" y="665.4" width="1.15" height="24.7" fill="#7a7a7a"/>
<rect x="338.32" y="665.4" width="1.15" height="24.7" fill="#7a7a7a"/>
<text x="353.62" y="619.00" font-size="13.60" fill="#111" textLength="136.86" lengthAdjust="spacingAndGlyphs" xml:space="preserve">NY1DD Isotype (n=4)</text>
<text x="353.62" y="638.20" font-size="13.60" fill="#111" textLength="101.62" lengthAdjust="spacingAndGlyphs" xml:space="preserve">NY1DD 1d after</text>
<text x="354.19" y="653.60" font-size="13.60" fill="#111" textLength="103.31" lengthAdjust="spacingAndGlyphs" xml:space="preserve">anti-CD1d (n=4)</text>
<text x="353.62" y="674.20" font-size="13.60" fill="#111" textLength="101.62" lengthAdjust="spacingAndGlyphs" xml:space="preserve">NY1DD 5d after</text>
<text x="354.19" y="689.40" font-size="13.60" fill="#111" textLength="103.31" lengthAdjust="spacingAndGlyphs" xml:space="preserve">anti-CD1d (n=4)</text>
<text x="1.36" y="808.40" font-size="24.50" font-weight="bold" fill="#000" textLength="16.56" lengthAdjust="spacingAndGlyphs" xml:space="preserve">C</text>
<path d="M76,798.1 H185.5 V961.7" fill="none" stroke="#000" stroke-width="2.6"/>
<rect x="74.7" y="796.8" width="2.6" height="166.2" fill="#000"/>
<rect x="74.7" y="960.4" width="112.1" height="2.6" fill="#000"/>
<rect x="70.2" y="960.60" width="5.5" height="2.2" fill="#000"/>
<text x="62.34" y="965.90" font-size="11.80" font-weight="bold" fill="#000" textLength="6.76" lengthAdjust="spacingAndGlyphs" xml:space="preserve">0</text>
<rect x="70.2" y="905.95" width="5.5" height="2.2" fill="#000"/>
<text x="62.18" y="911.25" font-size="11.80" font-weight="bold" fill="#000" textLength="6.76" lengthAdjust="spacingAndGlyphs" xml:space="preserve">5</text>
<rect x="70.2" y="851.30" width="5.5" height="2.2" fill="#000"/>
<text x="55.58" y="856.60" font-size="11.80" font-weight="bold" fill="#000" textLength="13.52" lengthAdjust="spacingAndGlyphs" xml:space="preserve">10</text>
<rect x="70.2" y="796.65" width="5.5" height="2.2" fill="#000"/>
<text x="55.43" y="801.95" font-size="11.80" font-weight="bold" fill="#000" textLength="13.52" lengthAdjust="spacingAndGlyphs" xml:space="preserve">15</text>
<rect x="93.2" y="962" width="2" height="5.5" fill="#000"/>
<rect x="129.5" y="962" width="2" height="5.5" fill="#000"/>
<rect x="166.2" y="962" width="2" height="5.5" fill="#000"/>
<path d="M94.00,854.60 V829.00 M86.95,829.00 H101.05" fill="none" stroke="#000" stroke-width="1.6"/>
<rect x="82.15" y="855.45" width="24.10" height="107.10" fill="#1e1e1e" stroke="#000" stroke-width="1.7"/>
<path d="M130.60,907.10 V899.00 M123.95,899.00 H137.25" fill="none" stroke="#000" stroke-width="1.6"/>
<rect x="118.25" y="907.95" width="24.40" height="54.60" fill="url(#chk)" stroke="#000" stroke-width="1.7"/>
<path d="M167.70,860.80 V847.90 M161.00,847.90 H174.40" fill="none" stroke="#000" stroke-width="1.6"/>
<rect x="155.05" y="861.65" width="24.50" height="100.90" fill="#fff" stroke="#000" stroke-width="1.7"/>
<rect x="159.38" y="862.50" width="1.15" height="99.20" fill="#7a7a7a"/>
<rect x="164.28" y="862.50" width="1.15" height="99.20" fill="#7a7a7a"/>
<rect x="169.18" y="862.50" width="1.15" height="99.20" fill="#7a7a7a"/>
<rect x="174.08" y="862.50" width="1.15" height="99.20" fill="#7a7a7a"/>
<text transform="translate(48.40,978.33) rotate(-90)" font-size="14.00" font-weight="bold" fill="#000" textLength="186.92" lengthAdjust="spacingAndGlyphs" xml:space="preserve">IFN<tspan font-weight="normal" font-size="12">&#947;</tspan> (pg/mL  X10<tspan font-size="9.5" dy="-4.2">3</tspan><tspan dy="4.2">) (left lobe)</tspan></text>
<text x="204.59" y="808.10" font-size="24.50" font-weight="bold" fill="#000" textLength="18.38" lengthAdjust="spacingAndGlyphs" xml:space="preserve">D</text>
<path d="M268.3,796 H516.5 V962" fill="none" stroke="#000" stroke-width="2.2"/>
<rect x="267.2" y="795" width="2.2" height="78.5" fill="#000"/>
<rect x="264.4" y="872" width="8.3" height="2" fill="#000"/>
<rect x="264.4" y="884" width="8.3" height="2" fill="#000"/>
<rect x="267.2" y="884" width="2.2" height="79" fill="#000"/>
<rect x="267.2" y="960.9" width="250.4" height="2.2" fill="#000"/>
<rect x="263.3" y="795.60" width="5.5" height="1.8" fill="#000"/>
<text x="242.47" y="800.20" font-size="11.50" font-weight="bold" fill="#000" textLength="19.51" lengthAdjust="spacingAndGlyphs" xml:space="preserve">160</text>
<rect x="263.3" y="817.35" width="5.5" height="1.8" fill="#000"/>
<text x="242.47" y="821.95" font-size="11.50" font-weight="bold" fill="#000" textLength="19.51" lengthAdjust="spacingAndGlyphs" xml:space="preserve">120</text>
<rect x="263.3" y="839.10" width="5.5" height="1.8" fill="#000"/>
<text x="248.97" y="843.70" font-size="11.50" font-weight="bold" fill="#000" textLength="13.01" lengthAdjust="spacingAndGlyphs" xml:space="preserve">80</text>
<rect x="263.3" y="860.84" width="5.5" height="1.8" fill="#000"/>
<text x="248.97" y="865.44" font-size="11.50" font-weight="bold" fill="#000" textLength="13.01" lengthAdjust="spacingAndGlyphs" xml:space="preserve">40</text>
<rect x="263.3" y="884.15" width="5.5" height="1.8" fill="#000"/>
<text x="248.82" y="888.75" font-size="11.50" font-weight="bold" fill="#000" textLength="13.01" lengthAdjust="spacingAndGlyphs" xml:space="preserve">15</text>
<rect x="263.3" y="909.80" width="5.5" height="1.8" fill="#000"/>
<text x="248.97" y="914.40" font-size="11.50" font-weight="bold" fill="#000" textLength="13.01" lengthAdjust="spacingAndGlyphs" xml:space="preserve">10</text>
<rect x="263.3" y="935.45" width="5.5" height="1.8" fill="#000"/>
<text x="255.32" y="940.05" font-size="11.50" font-weight="bold" fill="#000" textLength="6.50" lengthAdjust="spacingAndGlyphs" xml:space="preserve">5</text>
<rect x="263.3" y="961.10" width="5.5" height="1.8" fill="#000"/>
<text x="255.48" y="965.70" font-size="11.50" font-weight="bold" fill="#000" textLength="6.50" lengthAdjust="spacingAndGlyphs" xml:space="preserve">0</text>
<path d="M286.00,901.25 V894.50 M280.00,894.50 H292.00" fill="none" stroke="#000" stroke-width="1.6"/>
<rect x="274.60" y="902.10" width="23.30" height="60.75" fill="#1e1e1e" stroke="#000" stroke-width="1.7"/>
<rect x="299.60" y="932.10" width="22.05" height="30.75" fill="url(#chk)" stroke="#000" stroke-width="1.7"/>
<path d="M333.50,905.00 V893.75 M327.50,893.75 H339.50" fill="none" stroke="#000" stroke-width="1.6"/>
<rect x="323.35" y="905.85" width="21.30" height="57.00" fill="#fff" stroke="#000" stroke-width="1.7"/>
<rect x="327.04" y="906.70" width="1.15" height="55.30" fill="#7a7a7a"/>
<rect x="331.30" y="906.70" width="1.15" height="55.30" fill="#7a7a7a"/>
<rect x="335.56" y="906.70" width="1.15" height="55.30" fill="#7a7a7a"/>
<rect x="339.81" y="906.70" width="1.15" height="55.30" fill="#7a7a7a"/>
<path d="M368.50,844.60 V840.80 M362.15,840.80 H374.85" fill="none" stroke="#000" stroke-width="1.6"/>
<rect x="357.35" y="845.45" width="23.10" height="28.90" fill="#1e1e1e" stroke="#000" stroke-width="1.7"/>
<rect x="382.15" y="860.25" width="21.50" height="14.10" fill="url(#chk)" stroke="#000" stroke-width="1.7"/>
<path d="M415.90,830.20 V825.50 M409.80,825.50 H422.00" fill="none" stroke="#000" stroke-width="1.6"/>
<rect x="405.35" y="831.05" width="22.20" height="43.30" fill="#fff" stroke="#000" stroke-width="1.7"/>
<rect x="409.22" y="831.90" width="1.15" height="41.60" fill="#7a7a7a"/>
<rect x="413.66" y="831.90" width="1.15" height="41.60" fill="#7a7a7a"/>
<rect x="418.09" y="831.90" width="1.15" height="41.60" fill="#7a7a7a"/>
<rect x="422.53" y="831.90" width="1.15" height="41.60" fill="#7a7a7a"/>
<rect x="357.35" y="880.85" width="23.10" height="82.00" fill="#1e1e1e" stroke="#000" stroke-width="1.7"/>
<rect x="382.15" y="880.85" width="21.50" height="82.00" fill="url(#chk)" stroke="#000" stroke-width="1.7"/>
<rect x="405.35" y="880.85" width="22.20" height="82.00" fill="#fff" stroke="#000" stroke-width="1.7"/>
<rect x="409.22" y="881.70" width="1.15" height="80.30" fill="#7a7a7a"/>
<rect x="413.66" y="881.70" width="1.15" height="80.30" fill="#7a7a7a"/>
<rect x="418.09" y="881.70" width="1.15" height="80.30" fill="#7a7a7a"/>
<rect x="422.53" y="881.70" width="1.15" height="80.30" fill="#7a7a7a"/>
<rect x="355" y="872.6" width="75" height="12.4" fill="#fff"/>
<rect x="439.65" y="948.05" width="23.00" height="14.80" fill="#1e1e1e" stroke="#000" stroke-width="1.7"/>
<rect x="464.35" y="949.25" width="21.30" height="13.60" fill="url(#chk)" stroke="#000" stroke-width="1.7"/>
<rect x="487.35" y="945.05" width="22.10" height="17.80" fill="#fff" stroke="#000" stroke-width="1.7"/>
<rect x="491.20" y="945.90" width="1.15" height="16.10" fill="#7a7a7a"/>
<rect x="495.62" y="945.90" width="1.15" height="16.10" fill="#7a7a7a"/>
<rect x="500.04" y="945.90" width="1.15" height="16.10" fill="#7a7a7a"/>
<rect x="504.45" y="945.90" width="1.15" height="16.10" fill="#7a7a7a"/>
<path d="M368.60,837.60 V829.10 H390.30 V851.00" fill="none" stroke="#000" stroke-width="1.8"/>
<polygon points="379.00,820.80 379.79,822.71 381.85,822.87 380.28,824.22 380.76,826.23 379.00,825.15 377.24,826.23 377.72,824.22 376.15,822.87 378.21,822.71" fill="#222"/>
<path d="M394.00,851.30 V816.40 H415.70 V821.30" fill="none" stroke="#000" stroke-width="1.8"/>
<polygon points="406.20,808.20 406.99,810.11 409.05,810.27 407.48,811.62 407.96,813.63 406.20,812.55 404.44,813.63 404.92,811.62 403.35,810.27 405.41,810.11" fill="#222"/>
<path d="M369.00,820.70 V804.80 H415.70 V813.30" fill="none" stroke="#000" stroke-width="1.8"/>
<polygon points="391.80,797.60 392.59,799.51 394.65,799.67 393.08,801.02 393.56,803.03 391.80,801.95 390.04,803.03 390.52,801.02 388.95,799.67 391.01,799.51" fill="#222"/>
<rect x="272.5" y="967.9" width="75.0" height="2.4" fill="#000"/>
<rect x="355.2" y="967.9" width="76.1" height="2.4" fill="#000"/>
<rect x="437.0" y="967.9" width="75.0" height="2.4" fill="#000"/>
<text x="288.36" y="985.20" font-size="13.30" font-weight="bold" fill="#000" textLength="43.23" lengthAdjust="spacingAndGlyphs" xml:space="preserve">CXCL9</text>
<text x="365.14" y="985.20" font-size="13.30" font-weight="bold" fill="#000" textLength="51.92" lengthAdjust="spacingAndGlyphs" xml:space="preserve">CXCL10</text>
<text x="450.75" y="985.20" font-size="13.30" font-weight="bold" fill="#000" textLength="51.04" lengthAdjust="spacingAndGlyphs" xml:space="preserve">CXCL11</text>
<text transform="translate(234.00,955.91) rotate(-90)" font-size="14.00" font-weight="bold" fill="#000" textLength="147.00" lengthAdjust="spacingAndGlyphs" xml:space="preserve">pg/mL X 10<tspan font-size="10" dy="-5.5">2</tspan><tspan dy="5.5"> (left lobe)</tspan></text>
</svg>
</body></html>
